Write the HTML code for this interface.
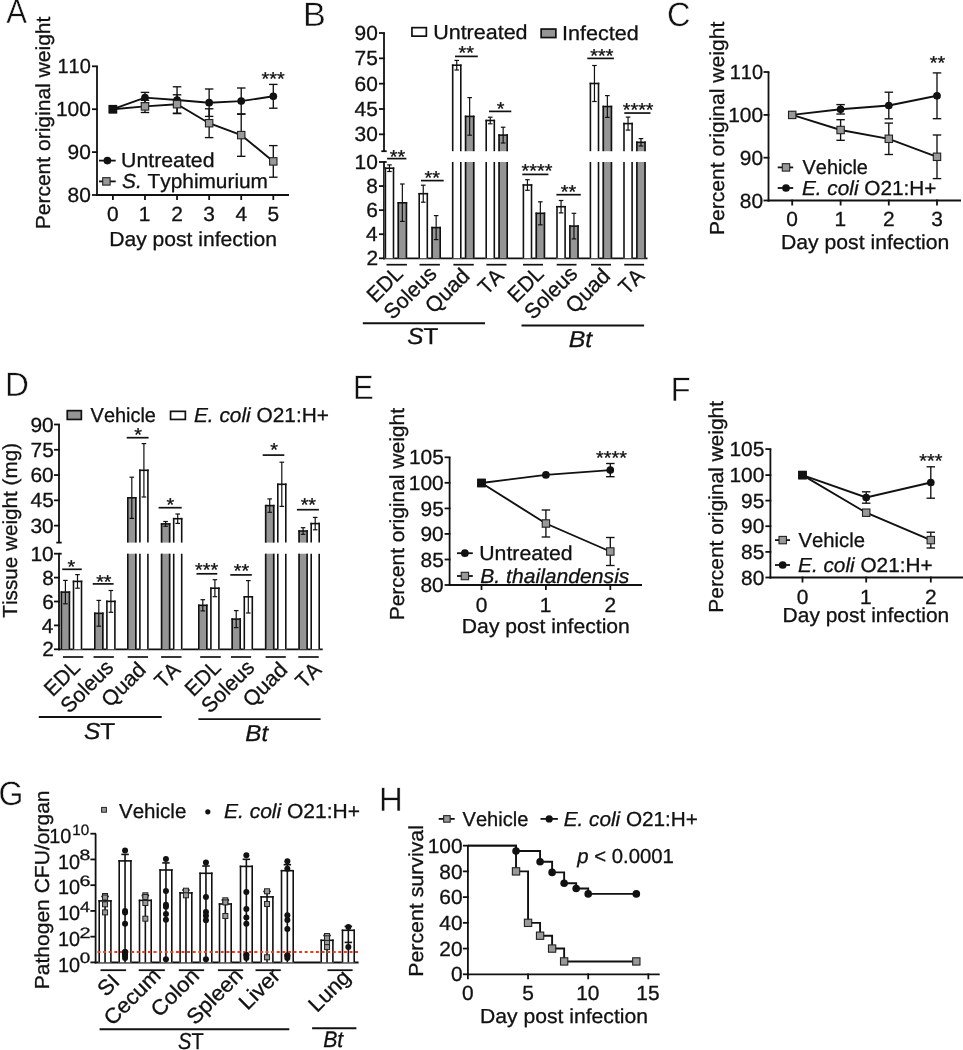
<!DOCTYPE html>
<html><head><meta charset="utf-8"><title>Figure</title>
<style>
html,body{margin:0;padding:0;background:#fff;width:963px;height:1050px;overflow:hidden}
svg{display:block}
text{font-family:"Liberation Sans",sans-serif;font-kerning:none;stroke:#111;stroke-width:0.3px}
</style></head><body>
<svg width="963" height="1050" viewBox="0 0 963 1050" text-rendering="geometricPrecision">
<rect x="0" y="0" width="963" height="1050" fill="#fff"/>
<g style="filter:grayscale(1)">
<text x="6.14" y="23.00" font-size="33.80" textLength="20.76" lengthAdjust="spacingAndGlyphs" fill="#111" style="stroke:#fff;stroke-width:0.45px">A</text>
<text x="303.09" y="26.20" font-size="33.80" textLength="22.82" lengthAdjust="spacingAndGlyphs" fill="#111" style="stroke:#fff;stroke-width:0.45px">B</text>
<text x="667.08" y="26.40" font-size="33.80" textLength="23.46" lengthAdjust="spacingAndGlyphs" fill="#111" style="stroke:#fff;stroke-width:0.45px">C</text>
<text x="5.09" y="395.80" font-size="33.80" textLength="23.91" lengthAdjust="spacingAndGlyphs" fill="#111" style="stroke:#fff;stroke-width:0.45px">D</text>
<text x="353.06" y="399.00" font-size="33.80" textLength="20.67" lengthAdjust="spacingAndGlyphs" fill="#111" style="stroke:#fff;stroke-width:0.45px">E</text>
<text x="670.39" y="400.80" font-size="33.80" textLength="20.20" lengthAdjust="spacingAndGlyphs" fill="#111" style="stroke:#fff;stroke-width:0.45px">F</text>
<text x="-1.60" y="804.50" font-size="33.80" textLength="24.86" lengthAdjust="spacingAndGlyphs" fill="#111" style="stroke:#fff;stroke-width:0.45px">G</text>
<text x="379.10" y="811.20" font-size="33.80" textLength="23.81" lengthAdjust="spacingAndGlyphs" fill="#111" style="stroke:#fff;stroke-width:0.45px">H</text>
<g transform="translate(0 0.6)">
<line x1="97.00" y1="65.70" x2="97.00" y2="195.30" stroke="#111" stroke-width="1.80"/>
<line x1="96.10" y1="194.40" x2="289.00" y2="194.40" stroke="#111" stroke-width="1.80"/>
<line x1="92.00" y1="65.70" x2="97.90" y2="65.70" stroke="#111" stroke-width="1.80"/>
<text x="57.46" y="72.83" font-size="20.50" textLength="33.34" lengthAdjust="spacingAndGlyphs" fill="#111">110</text>
<line x1="92.00" y1="108.60" x2="97.90" y2="108.60" stroke="#111" stroke-width="1.80"/>
<text x="55.92" y="115.73" font-size="20.50" textLength="34.89" lengthAdjust="spacingAndGlyphs" fill="#111">100</text>
<line x1="92.00" y1="151.50" x2="97.90" y2="151.50" stroke="#111" stroke-width="1.80"/>
<text x="67.54" y="158.63" font-size="20.50" textLength="23.26" lengthAdjust="spacingAndGlyphs" fill="#111">90</text>
<line x1="92.00" y1="194.40" x2="97.90" y2="194.40" stroke="#111" stroke-width="1.80"/>
<text x="67.54" y="201.53" font-size="20.50" textLength="23.26" lengthAdjust="spacingAndGlyphs" fill="#111">80</text>
<line x1="112.90" y1="193.50" x2="112.90" y2="199.40" stroke="#111" stroke-width="1.80"/>
<text x="107.09" y="220.60" font-size="20.50" textLength="11.63" lengthAdjust="spacingAndGlyphs" fill="#111">0</text>
<line x1="144.98" y1="193.50" x2="144.98" y2="199.40" stroke="#111" stroke-width="1.80"/>
<text x="138.87" y="220.60" font-size="20.50" textLength="11.63" lengthAdjust="spacingAndGlyphs" fill="#111">1</text>
<line x1="177.06" y1="193.50" x2="177.06" y2="199.40" stroke="#111" stroke-width="1.80"/>
<text x="171.25" y="220.60" font-size="20.50" textLength="11.63" lengthAdjust="spacingAndGlyphs" fill="#111">2</text>
<line x1="209.14" y1="193.50" x2="209.14" y2="199.40" stroke="#111" stroke-width="1.80"/>
<text x="203.39" y="220.60" font-size="20.50" textLength="11.63" lengthAdjust="spacingAndGlyphs" fill="#111">3</text>
<line x1="241.22" y1="193.50" x2="241.22" y2="199.40" stroke="#111" stroke-width="1.80"/>
<text x="235.47" y="220.60" font-size="20.50" textLength="11.63" lengthAdjust="spacingAndGlyphs" fill="#111">4</text>
<line x1="273.30" y1="193.50" x2="273.30" y2="199.40" stroke="#111" stroke-width="1.80"/>
<text x="267.51" y="220.60" font-size="20.50" textLength="11.63" lengthAdjust="spacingAndGlyphs" fill="#111">5</text>
<path d="M112.90 108.60 L144.98 97.00 L177.06 99.40 L209.14 102.10 L241.22 100.50 L273.30 95.70" stroke="#111" stroke-width="1.90" fill="none"/>
<path d="M112.90 108.60 L144.98 105.80 L177.06 103.60 L209.14 122.60 L241.22 134.50 L273.30 160.80" stroke="#111" stroke-width="1.90" fill="none"/>
<path d="M112.90 108.60" stroke="#111" stroke-width="1.90" fill="none"/>
<line x1="144.98" y1="91.80" x2="144.98" y2="102.20" stroke="#111" stroke-width="1.35"/>
<line x1="140.73" y1="91.80" x2="149.23" y2="91.80" stroke="#111" stroke-width="1.35"/>
<line x1="140.73" y1="102.20" x2="149.23" y2="102.20" stroke="#111" stroke-width="1.35"/>
<line x1="177.06" y1="86.20" x2="177.06" y2="112.60" stroke="#111" stroke-width="1.35"/>
<line x1="172.81" y1="86.20" x2="181.31" y2="86.20" stroke="#111" stroke-width="1.35"/>
<line x1="172.81" y1="112.60" x2="181.31" y2="112.60" stroke="#111" stroke-width="1.35"/>
<line x1="209.14" y1="88.40" x2="209.14" y2="115.80" stroke="#111" stroke-width="1.35"/>
<line x1="204.89" y1="88.40" x2="213.39" y2="88.40" stroke="#111" stroke-width="1.35"/>
<line x1="204.89" y1="115.80" x2="213.39" y2="115.80" stroke="#111" stroke-width="1.35"/>
<line x1="241.22" y1="87.40" x2="241.22" y2="113.60" stroke="#111" stroke-width="1.35"/>
<line x1="236.97" y1="87.40" x2="245.47" y2="87.40" stroke="#111" stroke-width="1.35"/>
<line x1="236.97" y1="113.60" x2="245.47" y2="113.60" stroke="#111" stroke-width="1.35"/>
<line x1="273.30" y1="83.80" x2="273.30" y2="107.60" stroke="#111" stroke-width="1.35"/>
<line x1="269.05" y1="83.80" x2="277.55" y2="83.80" stroke="#111" stroke-width="1.35"/>
<line x1="269.05" y1="107.60" x2="277.55" y2="107.60" stroke="#111" stroke-width="1.35"/>
<line x1="144.98" y1="99.70" x2="144.98" y2="111.90" stroke="#111" stroke-width="1.35"/>
<line x1="140.73" y1="99.70" x2="149.23" y2="99.70" stroke="#111" stroke-width="1.35"/>
<line x1="140.73" y1="111.90" x2="149.23" y2="111.90" stroke="#111" stroke-width="1.35"/>
<line x1="177.06" y1="94.20" x2="177.06" y2="113.00" stroke="#111" stroke-width="1.35"/>
<line x1="172.81" y1="94.20" x2="181.31" y2="94.20" stroke="#111" stroke-width="1.35"/>
<line x1="172.81" y1="113.00" x2="181.31" y2="113.00" stroke="#111" stroke-width="1.35"/>
<line x1="209.14" y1="108.20" x2="209.14" y2="137.00" stroke="#111" stroke-width="1.35"/>
<line x1="204.89" y1="108.20" x2="213.39" y2="108.20" stroke="#111" stroke-width="1.35"/>
<line x1="204.89" y1="137.00" x2="213.39" y2="137.00" stroke="#111" stroke-width="1.35"/>
<line x1="241.22" y1="113.30" x2="241.22" y2="155.70" stroke="#111" stroke-width="1.35"/>
<line x1="236.97" y1="113.30" x2="245.47" y2="113.30" stroke="#111" stroke-width="1.35"/>
<line x1="236.97" y1="155.70" x2="245.47" y2="155.70" stroke="#111" stroke-width="1.35"/>
<line x1="273.30" y1="145.00" x2="273.30" y2="176.60" stroke="#111" stroke-width="1.35"/>
<line x1="269.05" y1="145.00" x2="277.55" y2="145.00" stroke="#111" stroke-width="1.35"/>
<line x1="269.05" y1="176.60" x2="277.55" y2="176.60" stroke="#111" stroke-width="1.35"/>
<circle cx="112.90" cy="108.60" r="3.85" fill="#111"/>
<circle cx="144.98" cy="97.00" r="3.85" fill="#111"/>
<circle cx="177.06" cy="99.40" r="3.85" fill="#111"/>
<circle cx="209.14" cy="102.10" r="3.85" fill="#111"/>
<circle cx="241.22" cy="100.50" r="3.85" fill="#111"/>
<circle cx="273.30" cy="95.70" r="3.85" fill="#111"/>
<rect x="109.20" y="104.90" width="7.40" height="7.40" fill="#999" stroke="#222" stroke-width="1.10"/>
<rect x="141.28" y="102.10" width="7.40" height="7.40" fill="#999" stroke="#222" stroke-width="1.10"/>
<rect x="173.36" y="99.90" width="7.40" height="7.40" fill="#999" stroke="#222" stroke-width="1.10"/>
<rect x="205.44" y="118.90" width="7.40" height="7.40" fill="#999" stroke="#222" stroke-width="1.10"/>
<rect x="237.52" y="130.80" width="7.40" height="7.40" fill="#999" stroke="#222" stroke-width="1.10"/>
<rect x="269.60" y="157.10" width="7.40" height="7.40" fill="#999" stroke="#222" stroke-width="1.10"/>
<rect x="109.20" y="104.90" width="7.40" height="7.40" fill="#111" stroke="#111" stroke-width="1.10"/>
<text x="261.64" y="84.27" font-size="18.50" textLength="23.11" lengthAdjust="spacingAndGlyphs" fill="#111">***</text>
<line x1="99.00" y1="160.00" x2="115.70" y2="160.00" stroke="#111" stroke-width="1.80"/>
<circle cx="107.40" cy="160.00" r="3.85" fill="#111"/>
<text x="121.08" y="166.70" font-size="20.30" textLength="93.47" lengthAdjust="spacingAndGlyphs" fill="#111">Untreated</text>
<line x1="99.00" y1="180.80" x2="115.70" y2="180.80" stroke="#111" stroke-width="1.80"/>
<rect x="102.70" y="177.10" width="7.40" height="7.40" fill="#999" stroke="#222" stroke-width="1.10"/>
<text x="122.11" y="187.80" font-size="20.30" textLength="145.84" lengthAdjust="spacingAndGlyphs" fill="#111"><tspan font-style="italic">S.</tspan> Typhimurium</text>
<text transform="translate(49.90 227.00) rotate(-90)" x="-1.72" y="0" font-size="20.30" textLength="212.71" lengthAdjust="spacingAndGlyphs" fill="#111">Percent original weight</text>
<text x="109.17" y="245.90" font-size="20.30" textLength="167.80" lengthAdjust="spacingAndGlyphs" fill="#111">Day post infection</text>
</g>
<g transform="translate(0 0.5)">
<line x1="768.50" y1="71.50" x2="768.50" y2="200.90" stroke="#111" stroke-width="1.80"/>
<line x1="767.60" y1="200.00" x2="961.00" y2="200.00" stroke="#111" stroke-width="1.80"/>
<line x1="763.50" y1="71.50" x2="769.40" y2="71.50" stroke="#111" stroke-width="1.80"/>
<text x="729.76" y="78.63" font-size="20.50" textLength="33.34" lengthAdjust="spacingAndGlyphs" fill="#111">110</text>
<line x1="763.50" y1="114.40" x2="769.40" y2="114.40" stroke="#111" stroke-width="1.80"/>
<text x="728.22" y="121.53" font-size="20.50" textLength="34.89" lengthAdjust="spacingAndGlyphs" fill="#111">100</text>
<line x1="763.50" y1="157.20" x2="769.40" y2="157.20" stroke="#111" stroke-width="1.80"/>
<text x="739.84" y="164.33" font-size="20.50" textLength="23.26" lengthAdjust="spacingAndGlyphs" fill="#111">90</text>
<line x1="763.50" y1="200.00" x2="769.40" y2="200.00" stroke="#111" stroke-width="1.80"/>
<text x="739.84" y="207.13" font-size="20.50" textLength="23.26" lengthAdjust="spacingAndGlyphs" fill="#111">80</text>
<line x1="792.20" y1="199.10" x2="792.20" y2="205.00" stroke="#111" stroke-width="1.80"/>
<text x="786.39" y="225.80" font-size="20.50" textLength="11.63" lengthAdjust="spacingAndGlyphs" fill="#111">0</text>
<line x1="840.60" y1="199.10" x2="840.60" y2="205.00" stroke="#111" stroke-width="1.80"/>
<text x="834.49" y="225.80" font-size="20.50" textLength="11.63" lengthAdjust="spacingAndGlyphs" fill="#111">1</text>
<line x1="888.80" y1="199.10" x2="888.80" y2="205.00" stroke="#111" stroke-width="1.80"/>
<text x="882.99" y="225.80" font-size="20.50" textLength="11.63" lengthAdjust="spacingAndGlyphs" fill="#111">2</text>
<line x1="937.00" y1="199.10" x2="937.00" y2="205.00" stroke="#111" stroke-width="1.80"/>
<text x="931.25" y="225.80" font-size="20.50" textLength="11.63" lengthAdjust="spacingAndGlyphs" fill="#111">3</text>
<path d="M792.20 114.40 L840.60 108.80 L888.80 105.00 L937.00 95.30" stroke="#111" stroke-width="1.90" fill="none"/>
<path d="M792.20 114.40 L840.60 129.50 L888.80 138.30 L937.00 156.30" stroke="#111" stroke-width="1.90" fill="none"/>
<line x1="840.60" y1="104.10" x2="840.60" y2="113.50" stroke="#111" stroke-width="1.35"/>
<line x1="836.35" y1="104.10" x2="844.85" y2="104.10" stroke="#111" stroke-width="1.35"/>
<line x1="836.35" y1="113.50" x2="844.85" y2="113.50" stroke="#111" stroke-width="1.35"/>
<line x1="888.80" y1="91.70" x2="888.80" y2="118.30" stroke="#111" stroke-width="1.35"/>
<line x1="884.55" y1="91.70" x2="893.05" y2="91.70" stroke="#111" stroke-width="1.35"/>
<line x1="884.55" y1="118.30" x2="893.05" y2="118.30" stroke="#111" stroke-width="1.35"/>
<line x1="937.00" y1="72.40" x2="937.00" y2="118.20" stroke="#111" stroke-width="1.35"/>
<line x1="932.75" y1="72.40" x2="941.25" y2="72.40" stroke="#111" stroke-width="1.35"/>
<line x1="932.75" y1="118.20" x2="941.25" y2="118.20" stroke="#111" stroke-width="1.35"/>
<line x1="840.60" y1="119.20" x2="840.60" y2="139.80" stroke="#111" stroke-width="1.35"/>
<line x1="836.35" y1="119.20" x2="844.85" y2="119.20" stroke="#111" stroke-width="1.35"/>
<line x1="836.35" y1="139.80" x2="844.85" y2="139.80" stroke="#111" stroke-width="1.35"/>
<line x1="888.80" y1="122.60" x2="888.80" y2="154.00" stroke="#111" stroke-width="1.35"/>
<line x1="884.55" y1="122.60" x2="893.05" y2="122.60" stroke="#111" stroke-width="1.35"/>
<line x1="884.55" y1="154.00" x2="893.05" y2="154.00" stroke="#111" stroke-width="1.35"/>
<line x1="937.00" y1="134.50" x2="937.00" y2="178.10" stroke="#111" stroke-width="1.35"/>
<line x1="932.75" y1="134.50" x2="941.25" y2="134.50" stroke="#111" stroke-width="1.35"/>
<line x1="932.75" y1="178.10" x2="941.25" y2="178.10" stroke="#111" stroke-width="1.35"/>
<circle cx="792.20" cy="114.40" r="3.85" fill="#111"/>
<circle cx="840.60" cy="108.80" r="3.85" fill="#111"/>
<circle cx="888.80" cy="105.00" r="3.85" fill="#111"/>
<circle cx="937.00" cy="95.30" r="3.85" fill="#111"/>
<rect x="788.50" y="110.70" width="7.40" height="7.40" fill="#999" stroke="#222" stroke-width="1.10"/>
<rect x="836.90" y="125.80" width="7.40" height="7.40" fill="#999" stroke="#222" stroke-width="1.10"/>
<rect x="885.10" y="134.60" width="7.40" height="7.40" fill="#999" stroke="#222" stroke-width="1.10"/>
<rect x="933.30" y="152.60" width="7.40" height="7.40" fill="#999" stroke="#222" stroke-width="1.10"/>
<text x="929.78" y="68.77" font-size="18.50" textLength="15.41" lengthAdjust="spacingAndGlyphs" fill="#111">**</text>
<line x1="777.70" y1="166.90" x2="793.20" y2="166.90" stroke="#111" stroke-width="1.80"/>
<rect x="782.30" y="163.20" width="7.40" height="7.40" fill="#999" stroke="#222" stroke-width="1.10"/>
<text x="802.52" y="173.60" font-size="20.30" textLength="65.39" lengthAdjust="spacingAndGlyphs" fill="#111">Vehicle</text>
<line x1="777.70" y1="187.50" x2="793.20" y2="187.50" stroke="#111" stroke-width="1.80"/>
<circle cx="786.00" cy="187.50" r="3.85" fill="#111"/>
<text x="801.98" y="194.30" font-size="20.30" textLength="134.54" lengthAdjust="spacingAndGlyphs" fill="#111"><tspan font-style="italic">E. coli</tspan> O21:H+</text>
<text transform="translate(723.60 232.80) rotate(-90)" x="-1.73" y="0" font-size="20.30" textLength="213.31" lengthAdjust="spacingAndGlyphs" fill="#111">Percent original weight</text>
<text x="780.96" y="248.60" font-size="20.30" textLength="168.41" lengthAdjust="spacingAndGlyphs" fill="#111">Day post infection</text>
</g>
<line x1="449.60" y1="457.30" x2="449.60" y2="585.90" stroke="#111" stroke-width="1.80"/>
<line x1="448.70" y1="585.00" x2="642.00" y2="585.00" stroke="#111" stroke-width="1.80"/>
<line x1="444.60" y1="457.30" x2="450.50" y2="457.30" stroke="#111" stroke-width="1.80"/>
<text x="408.90" y="464.43" font-size="20.50" textLength="34.89" lengthAdjust="spacingAndGlyphs" fill="#111">105</text>
<line x1="444.60" y1="482.80" x2="450.50" y2="482.80" stroke="#111" stroke-width="1.80"/>
<text x="408.82" y="489.93" font-size="20.50" textLength="34.89" lengthAdjust="spacingAndGlyphs" fill="#111">100</text>
<line x1="444.60" y1="508.40" x2="450.50" y2="508.40" stroke="#111" stroke-width="1.80"/>
<text x="420.53" y="515.53" font-size="20.50" textLength="23.26" lengthAdjust="spacingAndGlyphs" fill="#111">95</text>
<line x1="444.60" y1="533.90" x2="450.50" y2="533.90" stroke="#111" stroke-width="1.80"/>
<text x="420.44" y="541.03" font-size="20.50" textLength="23.26" lengthAdjust="spacingAndGlyphs" fill="#111">90</text>
<line x1="444.60" y1="559.50" x2="450.50" y2="559.50" stroke="#111" stroke-width="1.80"/>
<text x="420.53" y="566.63" font-size="20.50" textLength="23.26" lengthAdjust="spacingAndGlyphs" fill="#111">85</text>
<line x1="444.60" y1="585.00" x2="450.50" y2="585.00" stroke="#111" stroke-width="1.80"/>
<text x="420.44" y="592.13" font-size="20.50" textLength="23.26" lengthAdjust="spacingAndGlyphs" fill="#111">80</text>
<line x1="481.50" y1="584.10" x2="481.50" y2="590.00" stroke="#111" stroke-width="1.80"/>
<text x="475.69" y="611.60" font-size="20.50" textLength="11.63" lengthAdjust="spacingAndGlyphs" fill="#111">0</text>
<line x1="545.90" y1="584.10" x2="545.90" y2="590.00" stroke="#111" stroke-width="1.80"/>
<text x="539.79" y="611.60" font-size="20.50" textLength="11.63" lengthAdjust="spacingAndGlyphs" fill="#111">1</text>
<line x1="610.30" y1="584.10" x2="610.30" y2="590.00" stroke="#111" stroke-width="1.80"/>
<text x="604.49" y="611.60" font-size="20.50" textLength="11.63" lengthAdjust="spacingAndGlyphs" fill="#111">2</text>
<path d="M481.50 483.00 L545.90 474.90 L610.30 470.10" stroke="#111" stroke-width="1.90" fill="none"/>
<path d="M481.50 483.00 L545.90 523.50 L610.30 551.50" stroke="#111" stroke-width="1.90" fill="none"/>
<path d="M481.50 483.00" stroke="#111" stroke-width="1.90" fill="none"/>
<line x1="610.30" y1="463.50" x2="610.30" y2="476.70" stroke="#111" stroke-width="1.35"/>
<line x1="606.05" y1="463.50" x2="614.55" y2="463.50" stroke="#111" stroke-width="1.35"/>
<line x1="606.05" y1="476.70" x2="614.55" y2="476.70" stroke="#111" stroke-width="1.35"/>
<line x1="545.90" y1="510.00" x2="545.90" y2="537.00" stroke="#111" stroke-width="1.35"/>
<line x1="541.65" y1="510.00" x2="550.15" y2="510.00" stroke="#111" stroke-width="1.35"/>
<line x1="541.65" y1="537.00" x2="550.15" y2="537.00" stroke="#111" stroke-width="1.35"/>
<line x1="610.30" y1="537.50" x2="610.30" y2="565.50" stroke="#111" stroke-width="1.35"/>
<line x1="606.05" y1="537.50" x2="614.55" y2="537.50" stroke="#111" stroke-width="1.35"/>
<line x1="606.05" y1="565.50" x2="614.55" y2="565.50" stroke="#111" stroke-width="1.35"/>
<circle cx="481.50" cy="483.00" r="3.85" fill="#111"/>
<circle cx="545.90" cy="474.90" r="3.85" fill="#111"/>
<circle cx="610.30" cy="470.10" r="3.85" fill="#111"/>
<rect x="477.80" y="479.30" width="7.40" height="7.40" fill="#999" stroke="#222" stroke-width="1.10"/>
<rect x="542.20" y="519.80" width="7.40" height="7.40" fill="#999" stroke="#222" stroke-width="1.10"/>
<rect x="606.60" y="547.80" width="7.40" height="7.40" fill="#999" stroke="#222" stroke-width="1.10"/>
<rect x="477.80" y="479.30" width="7.40" height="7.40" fill="#111" stroke="#111" stroke-width="1.10"/>
<text x="596.08" y="463.87" font-size="18.50" textLength="30.81" lengthAdjust="spacingAndGlyphs" fill="#111">****</text>
<line x1="457.00" y1="553.20" x2="472.80" y2="553.20" stroke="#111" stroke-width="1.80"/>
<circle cx="464.90" cy="553.20" r="3.85" fill="#111"/>
<text x="479.28" y="559.80" font-size="20.30" textLength="93.37" lengthAdjust="spacingAndGlyphs" fill="#111">Untreated</text>
<line x1="457.00" y1="576.00" x2="472.80" y2="576.00" stroke="#111" stroke-width="1.80"/>
<rect x="461.20" y="572.30" width="7.40" height="7.40" fill="#999" stroke="#222" stroke-width="1.10"/>
<text x="480.27" y="583.00" font-size="20.30" textLength="149.16" lengthAdjust="spacingAndGlyphs" fill="#111"><tspan font-style="italic">B. thailandensis</tspan></text>
<text transform="translate(404.00 618.60) rotate(-90)" x="-1.72" y="0" font-size="20.30" textLength="212.30" lengthAdjust="spacingAndGlyphs" fill="#111">Percent original weight</text>
<text x="461.87" y="632.60" font-size="20.30" textLength="168.00" lengthAdjust="spacingAndGlyphs" fill="#111">Day post infection</text>
<line x1="770.40" y1="449.10" x2="770.40" y2="578.40" stroke="#111" stroke-width="1.80"/>
<line x1="769.50" y1="577.50" x2="963.00" y2="577.50" stroke="#111" stroke-width="1.80"/>
<line x1="765.40" y1="449.10" x2="771.30" y2="449.10" stroke="#111" stroke-width="1.80"/>
<text x="729.50" y="456.23" font-size="20.50" textLength="34.89" lengthAdjust="spacingAndGlyphs" fill="#111">105</text>
<line x1="765.40" y1="475.10" x2="771.30" y2="475.10" stroke="#111" stroke-width="1.80"/>
<text x="729.42" y="482.23" font-size="20.50" textLength="34.89" lengthAdjust="spacingAndGlyphs" fill="#111">100</text>
<line x1="765.40" y1="500.60" x2="771.30" y2="500.60" stroke="#111" stroke-width="1.80"/>
<text x="741.13" y="507.73" font-size="20.50" textLength="23.26" lengthAdjust="spacingAndGlyphs" fill="#111">95</text>
<line x1="765.40" y1="526.20" x2="771.30" y2="526.20" stroke="#111" stroke-width="1.80"/>
<text x="741.04" y="533.33" font-size="20.50" textLength="23.26" lengthAdjust="spacingAndGlyphs" fill="#111">90</text>
<line x1="765.40" y1="551.90" x2="771.30" y2="551.90" stroke="#111" stroke-width="1.80"/>
<text x="741.13" y="559.03" font-size="20.50" textLength="23.26" lengthAdjust="spacingAndGlyphs" fill="#111">85</text>
<line x1="765.40" y1="577.50" x2="771.30" y2="577.50" stroke="#111" stroke-width="1.80"/>
<text x="741.04" y="584.63" font-size="20.50" textLength="23.26" lengthAdjust="spacingAndGlyphs" fill="#111">80</text>
<line x1="802.50" y1="576.60" x2="802.50" y2="582.50" stroke="#111" stroke-width="1.80"/>
<text x="796.69" y="604.00" font-size="20.50" textLength="11.63" lengthAdjust="spacingAndGlyphs" fill="#111">0</text>
<line x1="866.20" y1="576.60" x2="866.20" y2="582.50" stroke="#111" stroke-width="1.80"/>
<text x="860.09" y="604.00" font-size="20.50" textLength="11.63" lengthAdjust="spacingAndGlyphs" fill="#111">1</text>
<line x1="930.80" y1="576.60" x2="930.80" y2="582.50" stroke="#111" stroke-width="1.80"/>
<text x="924.99" y="604.00" font-size="20.50" textLength="11.63" lengthAdjust="spacingAndGlyphs" fill="#111">2</text>
<path d="M802.50 475.10 L866.20 497.50 L930.80 482.50" stroke="#111" stroke-width="1.90" fill="none"/>
<path d="M802.50 475.10 L866.20 512.70 L930.80 540.10" stroke="#111" stroke-width="1.90" fill="none"/>
<path d="M802.50 475.10" stroke="#111" stroke-width="1.90" fill="none"/>
<line x1="866.20" y1="491.80" x2="866.20" y2="503.20" stroke="#111" stroke-width="1.35"/>
<line x1="861.95" y1="491.80" x2="870.45" y2="491.80" stroke="#111" stroke-width="1.35"/>
<line x1="861.95" y1="503.20" x2="870.45" y2="503.20" stroke="#111" stroke-width="1.35"/>
<line x1="930.80" y1="466.80" x2="930.80" y2="498.20" stroke="#111" stroke-width="1.35"/>
<line x1="926.55" y1="466.80" x2="935.05" y2="466.80" stroke="#111" stroke-width="1.35"/>
<line x1="926.55" y1="498.20" x2="935.05" y2="498.20" stroke="#111" stroke-width="1.35"/>
<line x1="930.80" y1="532.20" x2="930.80" y2="548.00" stroke="#111" stroke-width="1.35"/>
<line x1="926.55" y1="532.20" x2="935.05" y2="532.20" stroke="#111" stroke-width="1.35"/>
<line x1="926.55" y1="548.00" x2="935.05" y2="548.00" stroke="#111" stroke-width="1.35"/>
<circle cx="802.50" cy="475.10" r="3.85" fill="#111"/>
<circle cx="866.20" cy="497.50" r="3.85" fill="#111"/>
<circle cx="930.80" cy="482.50" r="3.85" fill="#111"/>
<rect x="798.80" y="471.40" width="7.40" height="7.40" fill="#999" stroke="#222" stroke-width="1.10"/>
<rect x="862.50" y="509.00" width="7.40" height="7.40" fill="#999" stroke="#222" stroke-width="1.10"/>
<rect x="927.10" y="536.40" width="7.40" height="7.40" fill="#999" stroke="#222" stroke-width="1.10"/>
<rect x="798.80" y="471.40" width="7.40" height="7.40" fill="#111" stroke="#111" stroke-width="1.10"/>
<text x="919.34" y="466.67" font-size="18.50" textLength="23.11" lengthAdjust="spacingAndGlyphs" fill="#111">***</text>
<line x1="775.00" y1="540.10" x2="790.00" y2="540.10" stroke="#111" stroke-width="1.80"/>
<rect x="779.00" y="536.40" width="7.40" height="7.40" fill="#999" stroke="#222" stroke-width="1.10"/>
<text x="798.62" y="546.90" font-size="20.30" textLength="66.40" lengthAdjust="spacingAndGlyphs" fill="#111">Vehicle</text>
<line x1="775.00" y1="565.00" x2="790.00" y2="565.00" stroke="#111" stroke-width="1.80"/>
<circle cx="782.70" cy="565.00" r="3.85" fill="#111"/>
<text x="798.08" y="572.30" font-size="20.30" textLength="134.54" lengthAdjust="spacingAndGlyphs" fill="#111"><tspan font-style="italic">E. coli</tspan> O21:H+</text>
<text transform="translate(722.50 611.00) rotate(-90)" x="-1.72" y="0" font-size="20.30" textLength="211.70" lengthAdjust="spacingAndGlyphs" fill="#111">Percent original weight</text>
<text x="782.58" y="621.70" font-size="20.30" textLength="166.68" lengthAdjust="spacingAndGlyphs" fill="#111">Day post infection</text>
<line x1="384.00" y1="33.00" x2="384.00" y2="151.20" stroke="#111" stroke-width="1.80"/>
<line x1="381.30" y1="151.20" x2="386.70" y2="151.20" stroke="#111" stroke-width="1.80"/>
<line x1="384.00" y1="162.00" x2="384.00" y2="259.20" stroke="#111" stroke-width="1.80"/>
<line x1="384.00" y1="162.00" x2="386.70" y2="162.00" stroke="#111" stroke-width="1.80"/>
<line x1="383.10" y1="258.30" x2="647.50" y2="258.30" stroke="#111" stroke-width="1.80"/>
<line x1="379.00" y1="33.00" x2="384.90" y2="33.00" stroke="#111" stroke-width="1.80"/>
<text x="354.54" y="40.13" font-size="20.50" textLength="23.26" lengthAdjust="spacingAndGlyphs" fill="#111">90</text>
<line x1="379.00" y1="58.33" x2="384.90" y2="58.33" stroke="#111" stroke-width="1.80"/>
<text x="354.63" y="65.46" font-size="20.50" textLength="23.26" lengthAdjust="spacingAndGlyphs" fill="#111">75</text>
<line x1="379.00" y1="83.66" x2="384.90" y2="83.66" stroke="#111" stroke-width="1.80"/>
<text x="354.54" y="90.80" font-size="20.50" textLength="23.26" lengthAdjust="spacingAndGlyphs" fill="#111">60</text>
<line x1="379.00" y1="108.99" x2="384.90" y2="108.99" stroke="#111" stroke-width="1.80"/>
<text x="354.63" y="116.13" font-size="20.50" textLength="23.26" lengthAdjust="spacingAndGlyphs" fill="#111">45</text>
<line x1="379.00" y1="134.32" x2="384.90" y2="134.32" stroke="#111" stroke-width="1.80"/>
<text x="354.54" y="141.46" font-size="20.50" textLength="23.26" lengthAdjust="spacingAndGlyphs" fill="#111">30</text>
<line x1="379.00" y1="161.98" x2="384.90" y2="161.98" stroke="#111" stroke-width="1.80"/>
<text x="354.54" y="169.11" font-size="20.50" textLength="23.26" lengthAdjust="spacingAndGlyphs" fill="#111">10</text>
<line x1="379.00" y1="186.06" x2="384.90" y2="186.06" stroke="#111" stroke-width="1.80"/>
<text x="366.29" y="193.19" font-size="20.50" textLength="11.63" lengthAdjust="spacingAndGlyphs" fill="#111">8</text>
<line x1="379.00" y1="210.14" x2="384.90" y2="210.14" stroke="#111" stroke-width="1.80"/>
<text x="366.29" y="217.27" font-size="20.50" textLength="11.63" lengthAdjust="spacingAndGlyphs" fill="#111">6</text>
<line x1="379.00" y1="234.22" x2="384.90" y2="234.22" stroke="#111" stroke-width="1.80"/>
<text x="365.96" y="241.35" font-size="20.50" textLength="11.63" lengthAdjust="spacingAndGlyphs" fill="#111">4</text>
<line x1="379.00" y1="258.30" x2="384.90" y2="258.30" stroke="#111" stroke-width="1.80"/>
<text x="366.42" y="265.43" font-size="20.50" textLength="11.63" lengthAdjust="spacingAndGlyphs" fill="#111">2</text>
<rect x="384.60" y="168.20" width="9.70" height="90.10" fill="#fff"/>
<line x1="385.40" y1="167.40" x2="385.40" y2="258.30" stroke="#111" stroke-width="1.60"/>
<line x1="393.50" y1="167.40" x2="393.50" y2="258.30" stroke="#111" stroke-width="1.60"/>
<line x1="384.60" y1="168.20" x2="394.30" y2="168.20" stroke="#111" stroke-width="1.60"/>
<rect x="397.50" y="202.80" width="9.70" height="55.50" fill="#959595"/>
<line x1="398.30" y1="202.00" x2="398.30" y2="258.30" stroke="#111" stroke-width="1.60"/>
<line x1="406.40" y1="202.00" x2="406.40" y2="258.30" stroke="#111" stroke-width="1.60"/>
<line x1="397.50" y1="202.80" x2="407.20" y2="202.80" stroke="#111" stroke-width="1.60"/>
<rect x="418.40" y="193.70" width="9.70" height="64.60" fill="#fff"/>
<line x1="419.20" y1="192.90" x2="419.20" y2="258.30" stroke="#111" stroke-width="1.60"/>
<line x1="427.30" y1="192.90" x2="427.30" y2="258.30" stroke="#111" stroke-width="1.60"/>
<line x1="418.40" y1="193.70" x2="428.10" y2="193.70" stroke="#111" stroke-width="1.60"/>
<rect x="431.30" y="227.60" width="9.70" height="30.70" fill="#959595"/>
<line x1="432.10" y1="226.80" x2="432.10" y2="258.30" stroke="#111" stroke-width="1.60"/>
<line x1="440.20" y1="226.80" x2="440.20" y2="258.30" stroke="#111" stroke-width="1.60"/>
<line x1="431.30" y1="227.60" x2="441.00" y2="227.60" stroke="#111" stroke-width="1.60"/>
<rect x="451.90" y="65.20" width="9.70" height="86.00" fill="#fff"/>
<line x1="452.70" y1="64.40" x2="452.70" y2="151.20" stroke="#111" stroke-width="1.60"/>
<line x1="460.80" y1="64.40" x2="460.80" y2="151.20" stroke="#111" stroke-width="1.60"/>
<line x1="451.90" y1="65.20" x2="461.60" y2="65.20" stroke="#111" stroke-width="1.60"/>
<rect x="451.90" y="162.00" width="9.70" height="96.30" fill="#fff"/>
<line x1="452.70" y1="162.00" x2="452.70" y2="258.30" stroke="#111" stroke-width="1.60"/>
<line x1="460.80" y1="162.00" x2="460.80" y2="258.30" stroke="#111" stroke-width="1.60"/>
<rect x="464.80" y="116.40" width="9.70" height="34.80" fill="#959595"/>
<line x1="465.60" y1="115.60" x2="465.60" y2="151.20" stroke="#111" stroke-width="1.60"/>
<line x1="473.70" y1="115.60" x2="473.70" y2="151.20" stroke="#111" stroke-width="1.60"/>
<line x1="464.80" y1="116.40" x2="474.50" y2="116.40" stroke="#111" stroke-width="1.60"/>
<rect x="464.80" y="162.00" width="9.70" height="96.30" fill="#959595"/>
<line x1="465.60" y1="162.00" x2="465.60" y2="258.30" stroke="#111" stroke-width="1.60"/>
<line x1="473.70" y1="162.00" x2="473.70" y2="258.30" stroke="#111" stroke-width="1.60"/>
<rect x="485.40" y="120.50" width="9.70" height="30.70" fill="#fff"/>
<line x1="486.20" y1="119.70" x2="486.20" y2="151.20" stroke="#111" stroke-width="1.60"/>
<line x1="494.30" y1="119.70" x2="494.30" y2="151.20" stroke="#111" stroke-width="1.60"/>
<line x1="485.40" y1="120.50" x2="495.10" y2="120.50" stroke="#111" stroke-width="1.60"/>
<rect x="485.40" y="162.00" width="9.70" height="96.30" fill="#fff"/>
<line x1="486.20" y1="162.00" x2="486.20" y2="258.30" stroke="#111" stroke-width="1.60"/>
<line x1="494.30" y1="162.00" x2="494.30" y2="258.30" stroke="#111" stroke-width="1.60"/>
<rect x="498.30" y="135.10" width="9.70" height="16.10" fill="#959595"/>
<line x1="499.10" y1="134.30" x2="499.10" y2="151.20" stroke="#111" stroke-width="1.60"/>
<line x1="507.20" y1="134.30" x2="507.20" y2="151.20" stroke="#111" stroke-width="1.60"/>
<line x1="498.30" y1="135.10" x2="508.00" y2="135.10" stroke="#111" stroke-width="1.60"/>
<rect x="498.30" y="162.00" width="9.70" height="96.30" fill="#959595"/>
<line x1="499.10" y1="162.00" x2="499.10" y2="258.30" stroke="#111" stroke-width="1.60"/>
<line x1="507.20" y1="162.00" x2="507.20" y2="258.30" stroke="#111" stroke-width="1.60"/>
<rect x="522.60" y="185.00" width="9.70" height="73.30" fill="#fff"/>
<line x1="523.40" y1="184.20" x2="523.40" y2="258.30" stroke="#111" stroke-width="1.60"/>
<line x1="531.50" y1="184.20" x2="531.50" y2="258.30" stroke="#111" stroke-width="1.60"/>
<line x1="522.60" y1="185.00" x2="532.30" y2="185.00" stroke="#111" stroke-width="1.60"/>
<rect x="535.50" y="213.30" width="9.70" height="45.00" fill="#959595"/>
<line x1="536.30" y1="212.50" x2="536.30" y2="258.30" stroke="#111" stroke-width="1.60"/>
<line x1="544.40" y1="212.50" x2="544.40" y2="258.30" stroke="#111" stroke-width="1.60"/>
<line x1="535.50" y1="213.30" x2="545.20" y2="213.30" stroke="#111" stroke-width="1.60"/>
<rect x="556.20" y="206.70" width="9.70" height="51.60" fill="#fff"/>
<line x1="557.00" y1="205.90" x2="557.00" y2="258.30" stroke="#111" stroke-width="1.60"/>
<line x1="565.10" y1="205.90" x2="565.10" y2="258.30" stroke="#111" stroke-width="1.60"/>
<line x1="556.20" y1="206.70" x2="565.90" y2="206.70" stroke="#111" stroke-width="1.60"/>
<rect x="569.10" y="226.10" width="9.70" height="32.20" fill="#959595"/>
<line x1="569.90" y1="225.30" x2="569.90" y2="258.30" stroke="#111" stroke-width="1.60"/>
<line x1="578.00" y1="225.30" x2="578.00" y2="258.30" stroke="#111" stroke-width="1.60"/>
<line x1="569.10" y1="226.10" x2="578.80" y2="226.10" stroke="#111" stroke-width="1.60"/>
<rect x="589.60" y="83.50" width="9.70" height="67.70" fill="#fff"/>
<line x1="590.40" y1="82.70" x2="590.40" y2="151.20" stroke="#111" stroke-width="1.60"/>
<line x1="598.50" y1="82.70" x2="598.50" y2="151.20" stroke="#111" stroke-width="1.60"/>
<line x1="589.60" y1="83.50" x2="599.30" y2="83.50" stroke="#111" stroke-width="1.60"/>
<rect x="589.60" y="162.00" width="9.70" height="96.30" fill="#fff"/>
<line x1="590.40" y1="162.00" x2="590.40" y2="258.30" stroke="#111" stroke-width="1.60"/>
<line x1="598.50" y1="162.00" x2="598.50" y2="258.30" stroke="#111" stroke-width="1.60"/>
<rect x="602.50" y="106.50" width="9.70" height="44.70" fill="#959595"/>
<line x1="603.30" y1="105.70" x2="603.30" y2="151.20" stroke="#111" stroke-width="1.60"/>
<line x1="611.40" y1="105.70" x2="611.40" y2="151.20" stroke="#111" stroke-width="1.60"/>
<line x1="602.50" y1="106.50" x2="612.20" y2="106.50" stroke="#111" stroke-width="1.60"/>
<rect x="602.50" y="162.00" width="9.70" height="96.30" fill="#959595"/>
<line x1="603.30" y1="162.00" x2="603.30" y2="258.30" stroke="#111" stroke-width="1.60"/>
<line x1="611.40" y1="162.00" x2="611.40" y2="258.30" stroke="#111" stroke-width="1.60"/>
<rect x="623.20" y="123.60" width="9.70" height="27.60" fill="#fff"/>
<line x1="624.00" y1="122.80" x2="624.00" y2="151.20" stroke="#111" stroke-width="1.60"/>
<line x1="632.10" y1="122.80" x2="632.10" y2="151.20" stroke="#111" stroke-width="1.60"/>
<line x1="623.20" y1="123.60" x2="632.90" y2="123.60" stroke="#111" stroke-width="1.60"/>
<rect x="623.20" y="162.00" width="9.70" height="96.30" fill="#fff"/>
<line x1="624.00" y1="162.00" x2="624.00" y2="258.30" stroke="#111" stroke-width="1.60"/>
<line x1="632.10" y1="162.00" x2="632.10" y2="258.30" stroke="#111" stroke-width="1.60"/>
<rect x="636.10" y="142.30" width="9.70" height="8.90" fill="#959595"/>
<line x1="636.90" y1="141.50" x2="636.90" y2="151.20" stroke="#111" stroke-width="1.60"/>
<line x1="645.00" y1="141.50" x2="645.00" y2="151.20" stroke="#111" stroke-width="1.60"/>
<line x1="636.10" y1="142.30" x2="645.80" y2="142.30" stroke="#111" stroke-width="1.60"/>
<rect x="636.10" y="162.00" width="9.70" height="96.30" fill="#959595"/>
<line x1="636.90" y1="162.00" x2="636.90" y2="258.30" stroke="#111" stroke-width="1.60"/>
<line x1="645.00" y1="162.00" x2="645.00" y2="258.30" stroke="#111" stroke-width="1.60"/>
<line x1="389.45" y1="164.90" x2="389.45" y2="171.50" stroke="#111" stroke-width="1.20"/>
<line x1="387.15" y1="164.90" x2="391.75" y2="164.90" stroke="#111" stroke-width="1.20"/>
<line x1="387.15" y1="171.50" x2="391.75" y2="171.50" stroke="#111" stroke-width="1.20"/>
<line x1="402.35" y1="184.00" x2="402.35" y2="221.40" stroke="#111" stroke-width="1.20"/>
<line x1="400.05" y1="184.00" x2="404.65" y2="184.00" stroke="#111" stroke-width="1.20"/>
<line x1="400.05" y1="221.40" x2="404.65" y2="221.40" stroke="#111" stroke-width="1.20"/>
<line x1="423.25" y1="185.20" x2="423.25" y2="202.20" stroke="#111" stroke-width="1.20"/>
<line x1="420.95" y1="185.20" x2="425.55" y2="185.20" stroke="#111" stroke-width="1.20"/>
<line x1="420.95" y1="202.20" x2="425.55" y2="202.20" stroke="#111" stroke-width="1.20"/>
<line x1="436.15" y1="215.60" x2="436.15" y2="239.60" stroke="#111" stroke-width="1.20"/>
<line x1="433.85" y1="215.60" x2="438.45" y2="215.60" stroke="#111" stroke-width="1.20"/>
<line x1="433.85" y1="239.60" x2="438.45" y2="239.60" stroke="#111" stroke-width="1.20"/>
<line x1="456.75" y1="60.40" x2="456.75" y2="70.00" stroke="#111" stroke-width="1.20"/>
<line x1="454.45" y1="60.40" x2="459.05" y2="60.40" stroke="#111" stroke-width="1.20"/>
<line x1="454.45" y1="70.00" x2="459.05" y2="70.00" stroke="#111" stroke-width="1.20"/>
<line x1="469.65" y1="97.60" x2="469.65" y2="135.20" stroke="#111" stroke-width="1.20"/>
<line x1="467.35" y1="97.60" x2="471.95" y2="97.60" stroke="#111" stroke-width="1.20"/>
<line x1="467.35" y1="135.20" x2="471.95" y2="135.20" stroke="#111" stroke-width="1.20"/>
<line x1="490.25" y1="117.20" x2="490.25" y2="123.80" stroke="#111" stroke-width="1.20"/>
<line x1="487.95" y1="117.20" x2="492.55" y2="117.20" stroke="#111" stroke-width="1.20"/>
<line x1="487.95" y1="123.80" x2="492.55" y2="123.80" stroke="#111" stroke-width="1.20"/>
<line x1="503.15" y1="127.20" x2="503.15" y2="143.00" stroke="#111" stroke-width="1.20"/>
<line x1="500.85" y1="127.20" x2="505.45" y2="127.20" stroke="#111" stroke-width="1.20"/>
<line x1="500.85" y1="143.00" x2="505.45" y2="143.00" stroke="#111" stroke-width="1.20"/>
<line x1="527.45" y1="179.70" x2="527.45" y2="190.30" stroke="#111" stroke-width="1.20"/>
<line x1="525.15" y1="179.70" x2="529.75" y2="179.70" stroke="#111" stroke-width="1.20"/>
<line x1="525.15" y1="190.30" x2="529.75" y2="190.30" stroke="#111" stroke-width="1.20"/>
<line x1="540.35" y1="201.80" x2="540.35" y2="224.80" stroke="#111" stroke-width="1.20"/>
<line x1="538.05" y1="201.80" x2="542.65" y2="201.80" stroke="#111" stroke-width="1.20"/>
<line x1="538.05" y1="224.80" x2="542.65" y2="224.80" stroke="#111" stroke-width="1.20"/>
<line x1="561.05" y1="200.50" x2="561.05" y2="212.90" stroke="#111" stroke-width="1.20"/>
<line x1="558.75" y1="200.50" x2="563.35" y2="200.50" stroke="#111" stroke-width="1.20"/>
<line x1="558.75" y1="212.90" x2="563.35" y2="212.90" stroke="#111" stroke-width="1.20"/>
<line x1="573.95" y1="213.30" x2="573.95" y2="238.90" stroke="#111" stroke-width="1.20"/>
<line x1="571.65" y1="213.30" x2="576.25" y2="213.30" stroke="#111" stroke-width="1.20"/>
<line x1="571.65" y1="238.90" x2="576.25" y2="238.90" stroke="#111" stroke-width="1.20"/>
<line x1="594.45" y1="65.50" x2="594.45" y2="101.50" stroke="#111" stroke-width="1.20"/>
<line x1="592.15" y1="65.50" x2="596.75" y2="65.50" stroke="#111" stroke-width="1.20"/>
<line x1="592.15" y1="101.50" x2="596.75" y2="101.50" stroke="#111" stroke-width="1.20"/>
<line x1="607.35" y1="95.60" x2="607.35" y2="117.40" stroke="#111" stroke-width="1.20"/>
<line x1="605.05" y1="95.60" x2="609.65" y2="95.60" stroke="#111" stroke-width="1.20"/>
<line x1="605.05" y1="117.40" x2="609.65" y2="117.40" stroke="#111" stroke-width="1.20"/>
<line x1="628.05" y1="117.10" x2="628.05" y2="130.10" stroke="#111" stroke-width="1.20"/>
<line x1="625.75" y1="117.10" x2="630.35" y2="117.10" stroke="#111" stroke-width="1.20"/>
<line x1="625.75" y1="130.10" x2="630.35" y2="130.10" stroke="#111" stroke-width="1.20"/>
<line x1="640.95" y1="138.60" x2="640.95" y2="146.00" stroke="#111" stroke-width="1.20"/>
<line x1="638.65" y1="138.60" x2="643.25" y2="138.60" stroke="#111" stroke-width="1.20"/>
<line x1="638.65" y1="146.00" x2="643.25" y2="146.00" stroke="#111" stroke-width="1.20"/>
<line x1="387.10" y1="158.60" x2="406.40" y2="158.60" stroke="#111" stroke-width="1.70"/>
<text x="389.78" y="163.27" font-size="18.50" textLength="15.41" lengthAdjust="spacingAndGlyphs" fill="#111">**</text>
<line x1="421.00" y1="180.60" x2="443.70" y2="180.60" stroke="#111" stroke-width="1.70"/>
<text x="424.58" y="183.77" font-size="18.50" textLength="15.41" lengthAdjust="spacingAndGlyphs" fill="#111">**</text>
<line x1="455.00" y1="56.40" x2="477.80" y2="56.40" stroke="#111" stroke-width="1.70"/>
<text x="458.48" y="59.47" font-size="18.50" textLength="15.41" lengthAdjust="spacingAndGlyphs" fill="#111">**</text>
<line x1="489.00" y1="111.40" x2="511.30" y2="111.40" stroke="#111" stroke-width="1.70"/>
<text x="496.74" y="114.97" font-size="18.50" textLength="7.70" lengthAdjust="spacingAndGlyphs" fill="#111">*</text>
<line x1="522.30" y1="174.40" x2="548.40" y2="174.40" stroke="#111" stroke-width="1.70"/>
<text x="521.58" y="177.37" font-size="18.50" textLength="30.81" lengthAdjust="spacingAndGlyphs" fill="#111">****</text>
<line x1="556.40" y1="194.70" x2="580.80" y2="194.70" stroke="#111" stroke-width="1.70"/>
<text x="560.88" y="197.87" font-size="18.50" textLength="15.41" lengthAdjust="spacingAndGlyphs" fill="#111">**</text>
<line x1="587.30" y1="58.40" x2="613.90" y2="58.40" stroke="#111" stroke-width="1.70"/>
<text x="590.34" y="62.17" font-size="18.50" textLength="23.11" lengthAdjust="spacingAndGlyphs" fill="#111">***</text>
<line x1="624.30" y1="113.05" x2="650.50" y2="113.05" stroke="#111" stroke-width="1.70"/>
<text x="622.78" y="115.77" font-size="18.50" textLength="30.81" lengthAdjust="spacingAndGlyphs" fill="#111">****</text>
<line x1="386.50" y1="264.70" x2="406.90" y2="264.70" stroke="#111" stroke-width="1.70"/>
<line x1="419.50" y1="264.70" x2="439.90" y2="264.70" stroke="#111" stroke-width="1.70"/>
<line x1="453.40" y1="264.70" x2="473.80" y2="264.70" stroke="#111" stroke-width="1.70"/>
<line x1="486.40" y1="264.70" x2="506.50" y2="264.70" stroke="#111" stroke-width="1.70"/>
<line x1="523.00" y1="264.70" x2="543.00" y2="264.70" stroke="#111" stroke-width="1.70"/>
<line x1="556.70" y1="264.70" x2="576.50" y2="264.70" stroke="#111" stroke-width="1.70"/>
<line x1="591.00" y1="264.70" x2="611.00" y2="264.70" stroke="#111" stroke-width="1.70"/>
<line x1="624.20" y1="264.70" x2="644.10" y2="264.70" stroke="#111" stroke-width="1.70"/>
<text transform="translate(404.20 275.00) rotate(-45)" x="-40.57" y="0" font-size="21.50" textLength="40.57" lengthAdjust="spacingAndGlyphs" fill="#111">EDL</text>
<text transform="translate(438.00 275.00) rotate(-45)" x="-64.42" y="0" font-size="21.50" textLength="64.42" lengthAdjust="spacingAndGlyphs" fill="#111">Soleus</text>
<text transform="translate(471.00 277.20) rotate(-45)" x="-52.60" y="0" font-size="21.50" textLength="52.60" lengthAdjust="spacingAndGlyphs" fill="#111">Quad</text>
<text transform="translate(505.00 277.50) rotate(-45)" x="-25.88" y="0" font-size="21.50" textLength="25.88" lengthAdjust="spacingAndGlyphs" fill="#111">TA</text>
<text transform="translate(545.00 275.00) rotate(-45)" x="-40.57" y="0" font-size="21.50" textLength="40.57" lengthAdjust="spacingAndGlyphs" fill="#111">EDL</text>
<text transform="translate(578.60 275.00) rotate(-45)" x="-64.42" y="0" font-size="21.50" textLength="64.42" lengthAdjust="spacingAndGlyphs" fill="#111">Soleus</text>
<text transform="translate(611.50 277.20) rotate(-45)" x="-52.60" y="0" font-size="21.50" textLength="52.60" lengthAdjust="spacingAndGlyphs" fill="#111">Quad</text>
<text transform="translate(645.60 277.50) rotate(-45)" x="-25.88" y="0" font-size="21.50" textLength="25.88" lengthAdjust="spacingAndGlyphs" fill="#111">TA</text>
<line x1="362.80" y1="323.30" x2="485.00" y2="323.30" stroke="#111" stroke-width="1.90"/>
<text x="407.22" y="344.40" font-size="23.00" textLength="31.11" lengthAdjust="spacingAndGlyphs" fill="#111"><tspan font-style="italic">S</tspan>T</text>
<line x1="521.50" y1="325.50" x2="644.10" y2="325.50" stroke="#111" stroke-width="1.90"/>
<text x="568.65" y="346.90" font-size="23.00" textLength="23.57" lengthAdjust="spacingAndGlyphs" fill="#111"><tspan font-style="italic">Bt</tspan></text>
<rect x="411.95" y="27.65" width="14.40" height="8.50" fill="#fff" stroke="#111" stroke-width="1.70"/>
<text x="433.17" y="38.60" font-size="20.30" textLength="94.40" lengthAdjust="spacingAndGlyphs" fill="#111">Untreated</text>
<rect x="541.15" y="29.05" width="14.70" height="8.50" fill="#959595" stroke="#111" stroke-width="1.70"/>
<text x="562.12" y="39.60" font-size="20.30" textLength="76.66" lengthAdjust="spacingAndGlyphs" fill="#111">Infected</text>
<line x1="59.00" y1="424.50" x2="59.00" y2="542.60" stroke="#111" stroke-width="1.80"/>
<line x1="56.30" y1="542.60" x2="61.70" y2="542.60" stroke="#111" stroke-width="1.80"/>
<line x1="59.00" y1="553.70" x2="59.00" y2="650.20" stroke="#111" stroke-width="1.80"/>
<line x1="59.00" y1="553.70" x2="61.70" y2="553.70" stroke="#111" stroke-width="1.80"/>
<line x1="58.10" y1="649.30" x2="322.70" y2="649.30" stroke="#111" stroke-width="1.80"/>
<line x1="54.00" y1="424.50" x2="59.90" y2="424.50" stroke="#111" stroke-width="1.80"/>
<text x="30.44" y="431.63" font-size="20.50" textLength="23.26" lengthAdjust="spacingAndGlyphs" fill="#111">90</text>
<line x1="54.00" y1="449.78" x2="59.90" y2="449.78" stroke="#111" stroke-width="1.80"/>
<text x="30.53" y="456.91" font-size="20.50" textLength="23.26" lengthAdjust="spacingAndGlyphs" fill="#111">75</text>
<line x1="54.00" y1="475.06" x2="59.90" y2="475.06" stroke="#111" stroke-width="1.80"/>
<text x="30.44" y="482.19" font-size="20.50" textLength="23.26" lengthAdjust="spacingAndGlyphs" fill="#111">60</text>
<line x1="54.00" y1="500.34" x2="59.90" y2="500.34" stroke="#111" stroke-width="1.80"/>
<text x="30.53" y="507.47" font-size="20.50" textLength="23.26" lengthAdjust="spacingAndGlyphs" fill="#111">45</text>
<line x1="54.00" y1="525.62" x2="59.90" y2="525.62" stroke="#111" stroke-width="1.80"/>
<text x="30.44" y="532.75" font-size="20.50" textLength="23.26" lengthAdjust="spacingAndGlyphs" fill="#111">30</text>
<line x1="54.00" y1="553.70" x2="59.90" y2="553.70" stroke="#111" stroke-width="1.80"/>
<text x="30.44" y="560.83" font-size="20.50" textLength="23.26" lengthAdjust="spacingAndGlyphs" fill="#111">10</text>
<line x1="54.00" y1="577.60" x2="59.90" y2="577.60" stroke="#111" stroke-width="1.80"/>
<text x="42.19" y="584.73" font-size="20.50" textLength="11.63" lengthAdjust="spacingAndGlyphs" fill="#111">8</text>
<line x1="54.00" y1="601.50" x2="59.90" y2="601.50" stroke="#111" stroke-width="1.80"/>
<text x="42.19" y="608.63" font-size="20.50" textLength="11.63" lengthAdjust="spacingAndGlyphs" fill="#111">6</text>
<line x1="54.00" y1="625.40" x2="59.90" y2="625.40" stroke="#111" stroke-width="1.80"/>
<text x="41.86" y="632.53" font-size="20.50" textLength="11.63" lengthAdjust="spacingAndGlyphs" fill="#111">4</text>
<line x1="54.00" y1="649.30" x2="59.90" y2="649.30" stroke="#111" stroke-width="1.80"/>
<text x="42.32" y="656.43" font-size="20.50" textLength="11.63" lengthAdjust="spacingAndGlyphs" fill="#111">2</text>
<rect x="60.60" y="592.10" width="9.60" height="57.20" fill="#959595"/>
<line x1="61.40" y1="591.30" x2="61.40" y2="649.30" stroke="#111" stroke-width="1.60"/>
<line x1="69.40" y1="591.30" x2="69.40" y2="649.30" stroke="#111" stroke-width="1.60"/>
<line x1="60.60" y1="592.10" x2="70.20" y2="592.10" stroke="#111" stroke-width="1.60"/>
<rect x="72.70" y="581.40" width="9.60" height="67.90" fill="#fff"/>
<line x1="73.50" y1="580.60" x2="73.50" y2="649.30" stroke="#111" stroke-width="1.60"/>
<line x1="81.50" y1="580.60" x2="81.50" y2="649.30" stroke="#111" stroke-width="1.60"/>
<line x1="72.70" y1="581.40" x2="82.30" y2="581.40" stroke="#111" stroke-width="1.60"/>
<rect x="94.00" y="613.30" width="9.60" height="36.00" fill="#959595"/>
<line x1="94.80" y1="612.50" x2="94.80" y2="649.30" stroke="#111" stroke-width="1.60"/>
<line x1="102.80" y1="612.50" x2="102.80" y2="649.30" stroke="#111" stroke-width="1.60"/>
<line x1="94.00" y1="613.30" x2="103.60" y2="613.30" stroke="#111" stroke-width="1.60"/>
<rect x="106.10" y="601.40" width="9.60" height="47.90" fill="#fff"/>
<line x1="106.90" y1="600.60" x2="106.90" y2="649.30" stroke="#111" stroke-width="1.60"/>
<line x1="114.90" y1="600.60" x2="114.90" y2="649.30" stroke="#111" stroke-width="1.60"/>
<line x1="106.10" y1="601.40" x2="115.70" y2="601.40" stroke="#111" stroke-width="1.60"/>
<rect x="127.00" y="497.80" width="9.60" height="44.80" fill="#959595"/>
<line x1="127.80" y1="497.00" x2="127.80" y2="542.60" stroke="#111" stroke-width="1.60"/>
<line x1="135.80" y1="497.00" x2="135.80" y2="542.60" stroke="#111" stroke-width="1.60"/>
<line x1="127.00" y1="497.80" x2="136.60" y2="497.80" stroke="#111" stroke-width="1.60"/>
<rect x="127.00" y="553.70" width="9.60" height="95.60" fill="#959595"/>
<line x1="127.80" y1="553.70" x2="127.80" y2="649.30" stroke="#111" stroke-width="1.60"/>
<line x1="135.80" y1="553.70" x2="135.80" y2="649.30" stroke="#111" stroke-width="1.60"/>
<rect x="139.10" y="470.30" width="9.60" height="72.30" fill="#fff"/>
<line x1="139.90" y1="469.50" x2="139.90" y2="542.60" stroke="#111" stroke-width="1.60"/>
<line x1="147.90" y1="469.50" x2="147.90" y2="542.60" stroke="#111" stroke-width="1.60"/>
<line x1="139.10" y1="470.30" x2="148.70" y2="470.30" stroke="#111" stroke-width="1.60"/>
<rect x="139.10" y="553.70" width="9.60" height="95.60" fill="#fff"/>
<line x1="139.90" y1="553.70" x2="139.90" y2="649.30" stroke="#111" stroke-width="1.60"/>
<line x1="147.90" y1="553.70" x2="147.90" y2="649.30" stroke="#111" stroke-width="1.60"/>
<rect x="160.80" y="523.90" width="9.60" height="18.70" fill="#959595"/>
<line x1="161.60" y1="523.10" x2="161.60" y2="542.60" stroke="#111" stroke-width="1.60"/>
<line x1="169.60" y1="523.10" x2="169.60" y2="542.60" stroke="#111" stroke-width="1.60"/>
<line x1="160.80" y1="523.90" x2="170.40" y2="523.90" stroke="#111" stroke-width="1.60"/>
<rect x="160.80" y="553.70" width="9.60" height="95.60" fill="#959595"/>
<line x1="161.60" y1="553.70" x2="161.60" y2="649.30" stroke="#111" stroke-width="1.60"/>
<line x1="169.60" y1="553.70" x2="169.60" y2="649.30" stroke="#111" stroke-width="1.60"/>
<rect x="172.90" y="518.70" width="9.60" height="23.90" fill="#fff"/>
<line x1="173.70" y1="517.90" x2="173.70" y2="542.60" stroke="#111" stroke-width="1.60"/>
<line x1="181.70" y1="517.90" x2="181.70" y2="542.60" stroke="#111" stroke-width="1.60"/>
<line x1="172.90" y1="518.70" x2="182.50" y2="518.70" stroke="#111" stroke-width="1.60"/>
<rect x="172.90" y="553.70" width="9.60" height="95.60" fill="#fff"/>
<line x1="173.70" y1="553.70" x2="173.70" y2="649.30" stroke="#111" stroke-width="1.60"/>
<line x1="181.70" y1="553.70" x2="181.70" y2="649.30" stroke="#111" stroke-width="1.60"/>
<rect x="198.00" y="605.30" width="9.60" height="44.00" fill="#959595"/>
<line x1="198.80" y1="604.50" x2="198.80" y2="649.30" stroke="#111" stroke-width="1.60"/>
<line x1="206.80" y1="604.50" x2="206.80" y2="649.30" stroke="#111" stroke-width="1.60"/>
<line x1="198.00" y1="605.30" x2="207.60" y2="605.30" stroke="#111" stroke-width="1.60"/>
<rect x="210.10" y="588.20" width="9.60" height="61.10" fill="#fff"/>
<line x1="210.90" y1="587.40" x2="210.90" y2="649.30" stroke="#111" stroke-width="1.60"/>
<line x1="218.90" y1="587.40" x2="218.90" y2="649.30" stroke="#111" stroke-width="1.60"/>
<line x1="210.10" y1="588.20" x2="219.70" y2="588.20" stroke="#111" stroke-width="1.60"/>
<rect x="231.40" y="619.10" width="9.60" height="30.20" fill="#959595"/>
<line x1="232.20" y1="618.30" x2="232.20" y2="649.30" stroke="#111" stroke-width="1.60"/>
<line x1="240.20" y1="618.30" x2="240.20" y2="649.30" stroke="#111" stroke-width="1.60"/>
<line x1="231.40" y1="619.10" x2="241.00" y2="619.10" stroke="#111" stroke-width="1.60"/>
<rect x="243.50" y="596.80" width="9.60" height="52.50" fill="#fff"/>
<line x1="244.30" y1="596.00" x2="244.30" y2="649.30" stroke="#111" stroke-width="1.60"/>
<line x1="252.30" y1="596.00" x2="252.30" y2="649.30" stroke="#111" stroke-width="1.60"/>
<line x1="243.50" y1="596.80" x2="253.10" y2="596.80" stroke="#111" stroke-width="1.60"/>
<rect x="264.90" y="505.60" width="9.60" height="37.00" fill="#959595"/>
<line x1="265.70" y1="504.80" x2="265.70" y2="542.60" stroke="#111" stroke-width="1.60"/>
<line x1="273.70" y1="504.80" x2="273.70" y2="542.60" stroke="#111" stroke-width="1.60"/>
<line x1="264.90" y1="505.60" x2="274.50" y2="505.60" stroke="#111" stroke-width="1.60"/>
<rect x="264.90" y="553.70" width="9.60" height="95.60" fill="#959595"/>
<line x1="265.70" y1="553.70" x2="265.70" y2="649.30" stroke="#111" stroke-width="1.60"/>
<line x1="273.70" y1="553.70" x2="273.70" y2="649.30" stroke="#111" stroke-width="1.60"/>
<rect x="277.00" y="484.30" width="9.60" height="58.30" fill="#fff"/>
<line x1="277.80" y1="483.50" x2="277.80" y2="542.60" stroke="#111" stroke-width="1.60"/>
<line x1="285.80" y1="483.50" x2="285.80" y2="542.60" stroke="#111" stroke-width="1.60"/>
<line x1="277.00" y1="484.30" x2="286.60" y2="484.30" stroke="#111" stroke-width="1.60"/>
<rect x="277.00" y="553.70" width="9.60" height="95.60" fill="#fff"/>
<line x1="277.80" y1="553.70" x2="277.80" y2="649.30" stroke="#111" stroke-width="1.60"/>
<line x1="285.80" y1="553.70" x2="285.80" y2="649.30" stroke="#111" stroke-width="1.60"/>
<rect x="298.30" y="531.00" width="9.60" height="11.60" fill="#959595"/>
<line x1="299.10" y1="530.20" x2="299.10" y2="542.60" stroke="#111" stroke-width="1.60"/>
<line x1="307.10" y1="530.20" x2="307.10" y2="542.60" stroke="#111" stroke-width="1.60"/>
<line x1="298.30" y1="531.00" x2="307.90" y2="531.00" stroke="#111" stroke-width="1.60"/>
<rect x="298.30" y="553.70" width="9.60" height="95.60" fill="#959595"/>
<line x1="299.10" y1="553.70" x2="299.10" y2="649.30" stroke="#111" stroke-width="1.60"/>
<line x1="307.10" y1="553.70" x2="307.10" y2="649.30" stroke="#111" stroke-width="1.60"/>
<rect x="310.40" y="523.60" width="9.60" height="19.00" fill="#fff"/>
<line x1="311.20" y1="522.80" x2="311.20" y2="542.60" stroke="#111" stroke-width="1.60"/>
<line x1="319.20" y1="522.80" x2="319.20" y2="542.60" stroke="#111" stroke-width="1.60"/>
<line x1="310.40" y1="523.60" x2="320.00" y2="523.60" stroke="#111" stroke-width="1.60"/>
<rect x="310.40" y="553.70" width="9.60" height="95.60" fill="#fff"/>
<line x1="311.20" y1="553.70" x2="311.20" y2="649.30" stroke="#111" stroke-width="1.60"/>
<line x1="319.20" y1="553.70" x2="319.20" y2="649.30" stroke="#111" stroke-width="1.60"/>
<line x1="65.40" y1="580.40" x2="65.40" y2="603.80" stroke="#111" stroke-width="1.20"/>
<line x1="63.10" y1="580.40" x2="67.70" y2="580.40" stroke="#111" stroke-width="1.20"/>
<line x1="63.10" y1="603.80" x2="67.70" y2="603.80" stroke="#111" stroke-width="1.20"/>
<line x1="77.50" y1="574.60" x2="77.50" y2="588.20" stroke="#111" stroke-width="1.20"/>
<line x1="75.20" y1="574.60" x2="79.80" y2="574.60" stroke="#111" stroke-width="1.20"/>
<line x1="75.20" y1="588.20" x2="79.80" y2="588.20" stroke="#111" stroke-width="1.20"/>
<line x1="98.80" y1="600.40" x2="98.80" y2="626.20" stroke="#111" stroke-width="1.20"/>
<line x1="96.50" y1="600.40" x2="101.10" y2="600.40" stroke="#111" stroke-width="1.20"/>
<line x1="96.50" y1="626.20" x2="101.10" y2="626.20" stroke="#111" stroke-width="1.20"/>
<line x1="110.90" y1="590.50" x2="110.90" y2="612.30" stroke="#111" stroke-width="1.20"/>
<line x1="108.60" y1="590.50" x2="113.20" y2="590.50" stroke="#111" stroke-width="1.20"/>
<line x1="108.60" y1="612.30" x2="113.20" y2="612.30" stroke="#111" stroke-width="1.20"/>
<line x1="131.80" y1="477.20" x2="131.80" y2="518.40" stroke="#111" stroke-width="1.20"/>
<line x1="129.50" y1="477.20" x2="134.10" y2="477.20" stroke="#111" stroke-width="1.20"/>
<line x1="129.50" y1="518.40" x2="134.10" y2="518.40" stroke="#111" stroke-width="1.20"/>
<line x1="143.90" y1="443.60" x2="143.90" y2="497.00" stroke="#111" stroke-width="1.20"/>
<line x1="141.60" y1="443.60" x2="146.20" y2="443.60" stroke="#111" stroke-width="1.20"/>
<line x1="141.60" y1="497.00" x2="146.20" y2="497.00" stroke="#111" stroke-width="1.20"/>
<line x1="165.60" y1="521.50" x2="165.60" y2="526.30" stroke="#111" stroke-width="1.20"/>
<line x1="163.30" y1="521.50" x2="167.90" y2="521.50" stroke="#111" stroke-width="1.20"/>
<line x1="163.30" y1="526.30" x2="167.90" y2="526.30" stroke="#111" stroke-width="1.20"/>
<line x1="177.70" y1="514.00" x2="177.70" y2="523.40" stroke="#111" stroke-width="1.20"/>
<line x1="175.40" y1="514.00" x2="180.00" y2="514.00" stroke="#111" stroke-width="1.20"/>
<line x1="175.40" y1="523.40" x2="180.00" y2="523.40" stroke="#111" stroke-width="1.20"/>
<line x1="202.80" y1="599.70" x2="202.80" y2="610.90" stroke="#111" stroke-width="1.20"/>
<line x1="200.50" y1="599.70" x2="205.10" y2="599.70" stroke="#111" stroke-width="1.20"/>
<line x1="200.50" y1="610.90" x2="205.10" y2="610.90" stroke="#111" stroke-width="1.20"/>
<line x1="214.90" y1="579.70" x2="214.90" y2="596.70" stroke="#111" stroke-width="1.20"/>
<line x1="212.60" y1="579.70" x2="217.20" y2="579.70" stroke="#111" stroke-width="1.20"/>
<line x1="212.60" y1="596.70" x2="217.20" y2="596.70" stroke="#111" stroke-width="1.20"/>
<line x1="236.20" y1="610.60" x2="236.20" y2="627.60" stroke="#111" stroke-width="1.20"/>
<line x1="233.90" y1="610.60" x2="238.50" y2="610.60" stroke="#111" stroke-width="1.20"/>
<line x1="233.90" y1="627.60" x2="238.50" y2="627.60" stroke="#111" stroke-width="1.20"/>
<line x1="248.30" y1="580.60" x2="248.30" y2="613.00" stroke="#111" stroke-width="1.20"/>
<line x1="246.00" y1="580.60" x2="250.60" y2="580.60" stroke="#111" stroke-width="1.20"/>
<line x1="246.00" y1="613.00" x2="250.60" y2="613.00" stroke="#111" stroke-width="1.20"/>
<line x1="269.70" y1="498.90" x2="269.70" y2="512.30" stroke="#111" stroke-width="1.20"/>
<line x1="267.40" y1="498.90" x2="272.00" y2="498.90" stroke="#111" stroke-width="1.20"/>
<line x1="267.40" y1="512.30" x2="272.00" y2="512.30" stroke="#111" stroke-width="1.20"/>
<line x1="281.80" y1="462.20" x2="281.80" y2="506.40" stroke="#111" stroke-width="1.20"/>
<line x1="279.50" y1="462.20" x2="284.10" y2="462.20" stroke="#111" stroke-width="1.20"/>
<line x1="279.50" y1="506.40" x2="284.10" y2="506.40" stroke="#111" stroke-width="1.20"/>
<line x1="303.10" y1="527.70" x2="303.10" y2="534.30" stroke="#111" stroke-width="1.20"/>
<line x1="300.80" y1="527.70" x2="305.40" y2="527.70" stroke="#111" stroke-width="1.20"/>
<line x1="300.80" y1="534.30" x2="305.40" y2="534.30" stroke="#111" stroke-width="1.20"/>
<line x1="315.20" y1="517.40" x2="315.20" y2="529.80" stroke="#111" stroke-width="1.20"/>
<line x1="312.90" y1="517.40" x2="317.50" y2="517.40" stroke="#111" stroke-width="1.20"/>
<line x1="312.90" y1="529.80" x2="317.50" y2="529.80" stroke="#111" stroke-width="1.20"/>
<line x1="62.20" y1="569.30" x2="81.80" y2="569.30" stroke="#111" stroke-width="1.70"/>
<text x="67.64" y="573.17" font-size="18.50" textLength="7.70" lengthAdjust="spacingAndGlyphs" fill="#111">*</text>
<line x1="92.70" y1="583.90" x2="113.60" y2="583.90" stroke="#111" stroke-width="1.70"/>
<text x="96.18" y="587.57" font-size="18.50" textLength="15.41" lengthAdjust="spacingAndGlyphs" fill="#111">**</text>
<line x1="126.70" y1="437.70" x2="148.60" y2="437.70" stroke="#111" stroke-width="1.70"/>
<text x="134.34" y="440.57" font-size="18.50" textLength="7.70" lengthAdjust="spacingAndGlyphs" fill="#111">*</text>
<line x1="158.60" y1="507.70" x2="181.70" y2="507.70" stroke="#111" stroke-width="1.70"/>
<text x="166.64" y="510.77" font-size="18.50" textLength="7.70" lengthAdjust="spacingAndGlyphs" fill="#111">*</text>
<line x1="196.50" y1="573.80" x2="217.30" y2="573.80" stroke="#111" stroke-width="1.70"/>
<text x="195.04" y="576.07" font-size="18.50" textLength="23.11" lengthAdjust="spacingAndGlyphs" fill="#111">***</text>
<line x1="230.30" y1="574.90" x2="251.80" y2="574.90" stroke="#111" stroke-width="1.70"/>
<text x="233.78" y="577.07" font-size="18.50" textLength="15.41" lengthAdjust="spacingAndGlyphs" fill="#111">**</text>
<line x1="262.70" y1="455.10" x2="284.30" y2="455.10" stroke="#111" stroke-width="1.70"/>
<text x="270.24" y="456.07" font-size="18.50" textLength="7.70" lengthAdjust="spacingAndGlyphs" fill="#111">*</text>
<line x1="296.90" y1="509.70" x2="318.90" y2="509.70" stroke="#111" stroke-width="1.70"/>
<text x="300.68" y="511.37" font-size="18.50" textLength="15.41" lengthAdjust="spacingAndGlyphs" fill="#111">**</text>
<line x1="63.00" y1="657.00" x2="83.30" y2="657.00" stroke="#111" stroke-width="1.70"/>
<line x1="93.50" y1="657.00" x2="113.90" y2="657.00" stroke="#111" stroke-width="1.70"/>
<line x1="127.70" y1="657.00" x2="148.00" y2="657.00" stroke="#111" stroke-width="1.70"/>
<line x1="161.10" y1="657.00" x2="181.50" y2="657.00" stroke="#111" stroke-width="1.70"/>
<line x1="200.20" y1="657.00" x2="220.80" y2="657.00" stroke="#111" stroke-width="1.70"/>
<line x1="231.00" y1="657.00" x2="251.10" y2="657.00" stroke="#111" stroke-width="1.70"/>
<line x1="265.60" y1="657.00" x2="285.90" y2="657.00" stroke="#111" stroke-width="1.70"/>
<line x1="298.30" y1="657.00" x2="318.70" y2="657.00" stroke="#111" stroke-width="1.70"/>
<text transform="translate(81.40 668.80) rotate(-45)" x="-40.57" y="0" font-size="21.50" textLength="40.57" lengthAdjust="spacingAndGlyphs" fill="#111">EDL</text>
<text transform="translate(114.80 668.80) rotate(-45)" x="-64.42" y="0" font-size="21.50" textLength="64.42" lengthAdjust="spacingAndGlyphs" fill="#111">Soleus</text>
<text transform="translate(147.30 671.00) rotate(-45)" x="-52.60" y="0" font-size="21.50" textLength="52.60" lengthAdjust="spacingAndGlyphs" fill="#111">Quad</text>
<text transform="translate(181.60 671.30) rotate(-45)" x="-25.88" y="0" font-size="21.50" textLength="25.88" lengthAdjust="spacingAndGlyphs" fill="#111">TA</text>
<text transform="translate(222.20 668.80) rotate(-45)" x="-40.57" y="0" font-size="21.50" textLength="40.57" lengthAdjust="spacingAndGlyphs" fill="#111">EDL</text>
<text transform="translate(255.60 668.80) rotate(-45)" x="-64.42" y="0" font-size="21.50" textLength="64.42" lengthAdjust="spacingAndGlyphs" fill="#111">Soleus</text>
<text transform="translate(288.60 671.00) rotate(-45)" x="-52.60" y="0" font-size="21.50" textLength="52.60" lengthAdjust="spacingAndGlyphs" fill="#111">Quad</text>
<text transform="translate(322.50 671.30) rotate(-45)" x="-25.88" y="0" font-size="21.50" textLength="25.88" lengthAdjust="spacingAndGlyphs" fill="#111">TA</text>
<line x1="38.80" y1="717.00" x2="161.70" y2="717.00" stroke="#111" stroke-width="1.90"/>
<text x="84.01" y="738.90" font-size="23.00" textLength="31.32" lengthAdjust="spacingAndGlyphs" fill="#111"><tspan font-style="italic">S</tspan>T</text>
<line x1="198.40" y1="719.10" x2="320.60" y2="719.10" stroke="#111" stroke-width="1.90"/>
<text x="245.37" y="741.30" font-size="23.00" textLength="22.88" lengthAdjust="spacingAndGlyphs" fill="#111"><tspan font-style="italic">Bt</tspan></text>
<rect x="67.25" y="410.65" width="14.10" height="8.80" fill="#959595" stroke="#111" stroke-width="1.70"/>
<text x="90.62" y="422.20" font-size="20.30" textLength="65.28" lengthAdjust="spacingAndGlyphs" fill="#111">Vehicle</text>
<rect x="170.55" y="411.35" width="14.80" height="8.10" fill="#fff" stroke="#111" stroke-width="1.70"/>
<text x="193.97" y="422.30" font-size="20.30" textLength="134.95" lengthAdjust="spacingAndGlyphs" fill="#111"><tspan font-style="italic">E. coli</tspan> O21:H+</text>
<text transform="translate(17.00 617.20) rotate(-90)" x="-0.46" y="0" font-size="20.30" textLength="174.74" lengthAdjust="spacingAndGlyphs" fill="#111">Tissue weight (mg)</text>
<line x1="95.60" y1="833.70" x2="95.60" y2="963.30" stroke="#111" stroke-width="1.80"/>
<line x1="94.70" y1="962.50" x2="358.60" y2="962.50" stroke="#111" stroke-width="1.80"/>
<line x1="90.40" y1="833.70" x2="96.00" y2="833.70" stroke="#111" stroke-width="1.80"/>
<text x="49.19" y="843.00" font-size="20.50" textLength="22.07" lengthAdjust="spacingAndGlyphs" fill="#111">10</text>
<text x="72.34" y="834.80" font-size="15.00" textLength="16.94" lengthAdjust="spacingAndGlyphs" fill="#111">10</text>
<line x1="90.40" y1="859.44" x2="96.00" y2="859.44" stroke="#111" stroke-width="1.80"/>
<text x="57.89" y="868.74" font-size="20.50" textLength="22.07" lengthAdjust="spacingAndGlyphs" fill="#111">10</text>
<text x="79.54" y="860.34" font-size="15.00" textLength="10.81" lengthAdjust="spacingAndGlyphs" fill="#111">8</text>
<line x1="90.40" y1="885.18" x2="96.00" y2="885.18" stroke="#111" stroke-width="1.80"/>
<text x="57.89" y="894.48" font-size="20.50" textLength="22.07" lengthAdjust="spacingAndGlyphs" fill="#111">10</text>
<text x="79.42" y="886.08" font-size="15.00" textLength="10.95" lengthAdjust="spacingAndGlyphs" fill="#111">6</text>
<line x1="90.40" y1="910.92" x2="96.00" y2="910.92" stroke="#111" stroke-width="1.80"/>
<text x="57.89" y="920.22" font-size="20.50" textLength="22.07" lengthAdjust="spacingAndGlyphs" fill="#111">10</text>
<text x="80.00" y="911.82" font-size="15.00" textLength="10.00" lengthAdjust="spacingAndGlyphs" fill="#111">4</text>
<line x1="90.40" y1="936.66" x2="96.00" y2="936.66" stroke="#111" stroke-width="1.80"/>
<text x="57.89" y="945.96" font-size="20.50" textLength="22.07" lengthAdjust="spacingAndGlyphs" fill="#111">10</text>
<text x="79.40" y="937.56" font-size="15.00" textLength="11.10" lengthAdjust="spacingAndGlyphs" fill="#111">2</text>
<line x1="90.40" y1="962.40" x2="96.00" y2="962.40" stroke="#111" stroke-width="1.80"/>
<text x="57.89" y="971.70" font-size="20.50" textLength="22.07" lengthAdjust="spacingAndGlyphs" fill="#111">10</text>
<text x="79.68" y="963.30" font-size="15.00" textLength="10.54" lengthAdjust="spacingAndGlyphs" fill="#111">0</text>
<rect x="98.40" y="900.90" width="13.30" height="61.50" fill="#fff"/>
<line x1="99.20" y1="900.10" x2="99.20" y2="962.40" stroke="#111" stroke-width="1.60"/>
<line x1="110.90" y1="900.10" x2="110.90" y2="962.40" stroke="#111" stroke-width="1.60"/>
<line x1="98.40" y1="900.90" x2="111.70" y2="900.90" stroke="#111" stroke-width="1.60"/>
<rect x="118.40" y="860.90" width="13.30" height="101.50" fill="#fff"/>
<line x1="119.20" y1="860.10" x2="119.20" y2="962.40" stroke="#111" stroke-width="1.60"/>
<line x1="130.90" y1="860.10" x2="130.90" y2="962.40" stroke="#111" stroke-width="1.60"/>
<line x1="118.40" y1="860.90" x2="131.70" y2="860.90" stroke="#111" stroke-width="1.60"/>
<rect x="138.70" y="900.40" width="13.30" height="62.00" fill="#fff"/>
<line x1="139.50" y1="899.60" x2="139.50" y2="962.40" stroke="#111" stroke-width="1.60"/>
<line x1="151.20" y1="899.60" x2="151.20" y2="962.40" stroke="#111" stroke-width="1.60"/>
<line x1="138.70" y1="900.40" x2="152.00" y2="900.40" stroke="#111" stroke-width="1.60"/>
<rect x="159.30" y="870.00" width="13.30" height="92.40" fill="#fff"/>
<line x1="160.10" y1="869.20" x2="160.10" y2="962.40" stroke="#111" stroke-width="1.60"/>
<line x1="171.80" y1="869.20" x2="171.80" y2="962.40" stroke="#111" stroke-width="1.60"/>
<line x1="159.30" y1="870.00" x2="172.60" y2="870.00" stroke="#111" stroke-width="1.60"/>
<rect x="179.30" y="892.90" width="13.30" height="69.50" fill="#fff"/>
<line x1="180.10" y1="892.10" x2="180.10" y2="962.40" stroke="#111" stroke-width="1.60"/>
<line x1="191.80" y1="892.10" x2="191.80" y2="962.40" stroke="#111" stroke-width="1.60"/>
<line x1="179.30" y1="892.90" x2="192.60" y2="892.90" stroke="#111" stroke-width="1.60"/>
<rect x="199.30" y="873.30" width="13.30" height="89.10" fill="#fff"/>
<line x1="200.10" y1="872.50" x2="200.10" y2="962.40" stroke="#111" stroke-width="1.60"/>
<line x1="211.80" y1="872.50" x2="211.80" y2="962.40" stroke="#111" stroke-width="1.60"/>
<line x1="199.30" y1="873.30" x2="212.60" y2="873.30" stroke="#111" stroke-width="1.60"/>
<rect x="218.70" y="904.00" width="13.30" height="58.40" fill="#fff"/>
<line x1="219.50" y1="903.20" x2="219.50" y2="962.40" stroke="#111" stroke-width="1.60"/>
<line x1="231.20" y1="903.20" x2="231.20" y2="962.40" stroke="#111" stroke-width="1.60"/>
<line x1="218.70" y1="904.00" x2="232.00" y2="904.00" stroke="#111" stroke-width="1.60"/>
<rect x="239.70" y="866.40" width="13.30" height="96.00" fill="#fff"/>
<line x1="240.50" y1="865.60" x2="240.50" y2="962.40" stroke="#111" stroke-width="1.60"/>
<line x1="252.20" y1="865.60" x2="252.20" y2="962.40" stroke="#111" stroke-width="1.60"/>
<line x1="239.70" y1="866.40" x2="253.00" y2="866.40" stroke="#111" stroke-width="1.60"/>
<rect x="260.40" y="896.90" width="13.30" height="65.50" fill="#fff"/>
<line x1="261.20" y1="896.10" x2="261.20" y2="962.40" stroke="#111" stroke-width="1.60"/>
<line x1="272.90" y1="896.10" x2="272.90" y2="962.40" stroke="#111" stroke-width="1.60"/>
<line x1="260.40" y1="896.90" x2="273.70" y2="896.90" stroke="#111" stroke-width="1.60"/>
<rect x="280.70" y="870.70" width="13.30" height="91.70" fill="#fff"/>
<line x1="281.50" y1="869.90" x2="281.50" y2="962.40" stroke="#111" stroke-width="1.60"/>
<line x1="293.20" y1="869.90" x2="293.20" y2="962.40" stroke="#111" stroke-width="1.60"/>
<line x1="280.70" y1="870.70" x2="294.00" y2="870.70" stroke="#111" stroke-width="1.60"/>
<rect x="320.40" y="940.30" width="13.30" height="22.10" fill="#fff"/>
<line x1="321.20" y1="939.50" x2="321.20" y2="962.40" stroke="#111" stroke-width="1.60"/>
<line x1="332.90" y1="939.50" x2="332.90" y2="962.40" stroke="#111" stroke-width="1.60"/>
<line x1="320.40" y1="940.30" x2="333.70" y2="940.30" stroke="#111" stroke-width="1.60"/>
<rect x="341.70" y="930.30" width="13.30" height="32.10" fill="#fff"/>
<line x1="342.50" y1="929.50" x2="342.50" y2="962.40" stroke="#111" stroke-width="1.60"/>
<line x1="354.20" y1="929.50" x2="354.20" y2="962.40" stroke="#111" stroke-width="1.60"/>
<line x1="341.70" y1="930.30" x2="355.00" y2="930.30" stroke="#111" stroke-width="1.60"/>
<line x1="105.05" y1="896.50" x2="105.05" y2="962.40" stroke="#111" stroke-width="1.60"/>
<line x1="101.30" y1="896.50" x2="108.80" y2="896.50" stroke="#111" stroke-width="1.60"/>
<line x1="125.05" y1="854.40" x2="125.05" y2="962.40" stroke="#111" stroke-width="1.60"/>
<line x1="121.30" y1="854.40" x2="128.80" y2="854.40" stroke="#111" stroke-width="1.60"/>
<line x1="145.35" y1="895.50" x2="145.35" y2="962.40" stroke="#111" stroke-width="1.60"/>
<line x1="141.60" y1="895.50" x2="149.10" y2="895.50" stroke="#111" stroke-width="1.60"/>
<line x1="165.95" y1="862.90" x2="165.95" y2="962.40" stroke="#111" stroke-width="1.60"/>
<line x1="162.20" y1="862.90" x2="169.70" y2="862.90" stroke="#111" stroke-width="1.60"/>
<line x1="185.95" y1="890.00" x2="185.95" y2="962.40" stroke="#111" stroke-width="1.60"/>
<line x1="182.20" y1="890.00" x2="189.70" y2="890.00" stroke="#111" stroke-width="1.60"/>
<line x1="205.95" y1="866.00" x2="205.95" y2="962.40" stroke="#111" stroke-width="1.60"/>
<line x1="202.20" y1="866.00" x2="209.70" y2="866.00" stroke="#111" stroke-width="1.60"/>
<line x1="225.35" y1="900.00" x2="225.35" y2="962.40" stroke="#111" stroke-width="1.60"/>
<line x1="221.60" y1="900.00" x2="229.10" y2="900.00" stroke="#111" stroke-width="1.60"/>
<line x1="246.35" y1="859.30" x2="246.35" y2="962.40" stroke="#111" stroke-width="1.60"/>
<line x1="242.60" y1="859.30" x2="250.10" y2="859.30" stroke="#111" stroke-width="1.60"/>
<line x1="267.05" y1="891.50" x2="267.05" y2="962.40" stroke="#111" stroke-width="1.60"/>
<line x1="263.30" y1="891.50" x2="270.80" y2="891.50" stroke="#111" stroke-width="1.60"/>
<line x1="287.35" y1="864.70" x2="287.35" y2="962.40" stroke="#111" stroke-width="1.60"/>
<line x1="283.60" y1="864.70" x2="291.10" y2="864.70" stroke="#111" stroke-width="1.60"/>
<line x1="327.05" y1="935.50" x2="327.05" y2="962.40" stroke="#111" stroke-width="1.60"/>
<line x1="323.30" y1="935.50" x2="330.80" y2="935.50" stroke="#111" stroke-width="1.60"/>
<line x1="348.35" y1="926.40" x2="348.35" y2="962.40" stroke="#111" stroke-width="1.60"/>
<line x1="344.60" y1="926.40" x2="352.10" y2="926.40" stroke="#111" stroke-width="1.60"/>
<line x1="344.60" y1="942.40" x2="352.10" y2="942.40" stroke="#111" stroke-width="1.60"/>
<rect x="102.55" y="893.50" width="5.00" height="5.00" fill="#999999" stroke="#222" stroke-width="1.00"/>
<rect x="102.55" y="895.00" width="5.00" height="5.00" fill="#999999" stroke="#222" stroke-width="1.00"/>
<rect x="102.55" y="901.80" width="5.00" height="5.00" fill="#999999" stroke="#222" stroke-width="1.00"/>
<rect x="102.55" y="909.90" width="5.00" height="5.00" fill="#999999" stroke="#222" stroke-width="1.00"/>
<rect x="142.85" y="892.80" width="5.00" height="5.00" fill="#999999" stroke="#222" stroke-width="1.00"/>
<rect x="142.85" y="894.50" width="5.00" height="5.00" fill="#999999" stroke="#222" stroke-width="1.00"/>
<rect x="142.85" y="900.50" width="5.00" height="5.00" fill="#999999" stroke="#222" stroke-width="1.00"/>
<rect x="142.85" y="916.20" width="5.00" height="5.00" fill="#999999" stroke="#222" stroke-width="1.00"/>
<rect x="183.45" y="888.20" width="5.00" height="5.00" fill="#999999" stroke="#222" stroke-width="1.00"/>
<rect x="183.45" y="892.80" width="5.00" height="5.00" fill="#999999" stroke="#222" stroke-width="1.00"/>
<rect x="222.85" y="897.80" width="5.00" height="5.00" fill="#999999" stroke="#222" stroke-width="1.00"/>
<rect x="222.85" y="899.90" width="5.00" height="5.00" fill="#999999" stroke="#222" stroke-width="1.00"/>
<rect x="222.85" y="913.50" width="5.00" height="5.00" fill="#999999" stroke="#222" stroke-width="1.00"/>
<rect x="264.55" y="888.80" width="5.00" height="5.00" fill="#999999" stroke="#222" stroke-width="1.00"/>
<rect x="264.55" y="901.50" width="5.00" height="5.00" fill="#999999" stroke="#222" stroke-width="1.00"/>
<rect x="264.55" y="954.80" width="5.00" height="5.00" fill="#999999" stroke="#222" stroke-width="1.00"/>
<rect x="324.55" y="933.50" width="5.00" height="5.00" fill="#999999" stroke="#222" stroke-width="1.00"/>
<rect x="324.55" y="935.80" width="5.00" height="5.00" fill="#999999" stroke="#222" stroke-width="1.00"/>
<rect x="324.55" y="940.40" width="5.00" height="5.00" fill="#999999" stroke="#222" stroke-width="1.00"/>
<rect x="324.55" y="944.60" width="5.00" height="5.00" fill="#999999" stroke="#222" stroke-width="1.00"/>
<circle cx="125.05" cy="850.40" r="3.00" fill="#111"/>
<circle cx="125.05" cy="911.00" r="3.00" fill="#111"/>
<circle cx="125.05" cy="912.50" r="3.00" fill="#111"/>
<circle cx="125.05" cy="923.70" r="3.00" fill="#111"/>
<circle cx="125.05" cy="952.00" r="3.00" fill="#111"/>
<circle cx="125.05" cy="955.00" r="3.00" fill="#111"/>
<circle cx="125.05" cy="958.00" r="3.00" fill="#111"/>
<circle cx="165.95" cy="858.90" r="3.00" fill="#111"/>
<circle cx="165.95" cy="891.00" r="3.00" fill="#111"/>
<circle cx="165.95" cy="904.70" r="3.00" fill="#111"/>
<circle cx="165.95" cy="906.70" r="3.00" fill="#111"/>
<circle cx="165.95" cy="914.00" r="3.00" fill="#111"/>
<circle cx="165.95" cy="919.70" r="3.00" fill="#111"/>
<circle cx="165.95" cy="959.30" r="3.00" fill="#111"/>
<circle cx="205.95" cy="862.40" r="3.00" fill="#111"/>
<circle cx="205.95" cy="897.00" r="3.00" fill="#111"/>
<circle cx="205.95" cy="912.00" r="3.00" fill="#111"/>
<circle cx="205.95" cy="915.70" r="3.00" fill="#111"/>
<circle cx="205.95" cy="920.30" r="3.00" fill="#111"/>
<circle cx="205.95" cy="959.30" r="3.00" fill="#111"/>
<circle cx="246.35" cy="855.30" r="3.00" fill="#111"/>
<circle cx="246.35" cy="892.00" r="3.00" fill="#111"/>
<circle cx="246.35" cy="909.00" r="3.00" fill="#111"/>
<circle cx="246.35" cy="917.60" r="3.00" fill="#111"/>
<circle cx="246.35" cy="923.70" r="3.00" fill="#111"/>
<circle cx="246.35" cy="955.00" r="3.00" fill="#111"/>
<circle cx="246.35" cy="958.00" r="3.00" fill="#111"/>
<circle cx="287.35" cy="861.30" r="3.00" fill="#111"/>
<circle cx="287.35" cy="868.70" r="3.00" fill="#111"/>
<circle cx="287.35" cy="915.30" r="3.00" fill="#111"/>
<circle cx="287.35" cy="920.00" r="3.00" fill="#111"/>
<circle cx="287.35" cy="929.00" r="3.00" fill="#111"/>
<circle cx="287.35" cy="955.50" r="3.00" fill="#111"/>
<circle cx="287.35" cy="958.00" r="3.00" fill="#111"/>
<circle cx="348.35" cy="927.10" r="3.00" fill="#111"/>
<circle cx="348.35" cy="946.90" r="3.00" fill="#111"/>
<line x1="100.50" y1="970.20" x2="126.10" y2="970.20" stroke="#111" stroke-width="1.80"/>
<line x1="138.70" y1="970.20" x2="164.90" y2="970.20" stroke="#111" stroke-width="1.80"/>
<line x1="178.80" y1="970.20" x2="204.10" y2="970.20" stroke="#111" stroke-width="1.80"/>
<line x1="217.90" y1="970.20" x2="243.20" y2="970.20" stroke="#111" stroke-width="1.80"/>
<line x1="255.50" y1="970.20" x2="280.80" y2="970.20" stroke="#111" stroke-width="1.80"/>
<line x1="327.50" y1="970.20" x2="352.60" y2="970.20" stroke="#111" stroke-width="1.80"/>
<text transform="translate(120.80 982.80) rotate(-45)" x="-20.92" y="0" font-size="21.50" textLength="20.92" lengthAdjust="spacingAndGlyphs" fill="#111">SI</text>
<text transform="translate(162.10 977.00) rotate(-45)" x="-70.14" y="0" font-size="21.50" textLength="70.14" lengthAdjust="spacingAndGlyphs" fill="#111">Cecum</text>
<text transform="translate(200.40 977.00) rotate(-45)" x="-57.86" y="0" font-size="21.50" textLength="57.86" lengthAdjust="spacingAndGlyphs" fill="#111">Colon</text>
<text transform="translate(243.90 977.00) rotate(-45)" x="-68.95" y="0" font-size="21.50" textLength="68.95" lengthAdjust="spacingAndGlyphs" fill="#111">Spleen</text>
<text transform="translate(281.50 977.00) rotate(-45)" x="-48.00" y="0" font-size="21.50" textLength="48.00" lengthAdjust="spacingAndGlyphs" fill="#111">Liver</text>
<text transform="translate(351.80 978.50) rotate(-45)" x="-49.26" y="0" font-size="21.50" textLength="49.26" lengthAdjust="spacingAndGlyphs" fill="#111">Lung</text>
<line x1="99.60" y1="1029.30" x2="289.30" y2="1029.30" stroke="#111" stroke-width="1.90"/>
<text x="178.04" y="1048.60" font-size="23.00" textLength="25.60" lengthAdjust="spacingAndGlyphs" fill="#111"><tspan font-style="italic">S</tspan>T</text>
<line x1="312.10" y1="1028.20" x2="356.40" y2="1028.20" stroke="#111" stroke-width="1.90"/>
<text x="323.16" y="1047.00" font-size="22.50" textLength="20.09" lengthAdjust="spacingAndGlyphs" fill="#111"><tspan font-style="italic">Bt</tspan></text>
<rect x="101.60" y="807.40" width="4.80" height="4.80" fill="#999999" stroke="#222" stroke-width="1.00"/>
<text x="119.02" y="817.60" font-size="20.30" textLength="67.31" lengthAdjust="spacingAndGlyphs" fill="#111">Vehicle</text>
<circle cx="207.80" cy="811.80" r="2.60" fill="#111"/>
<text x="223.97" y="817.60" font-size="20.30" textLength="136.06" lengthAdjust="spacingAndGlyphs" fill="#111"><tspan font-style="italic">E. coli</tspan> O21:H+</text>
<text transform="translate(48.60 987.60) rotate(-90)" x="-1.73" y="0" font-size="20.30" textLength="198.88" lengthAdjust="spacingAndGlyphs" fill="#111">Pathogen CFU/organ</text>
<line x1="467.90" y1="845.60" x2="467.90" y2="975.20" stroke="#111" stroke-width="1.80"/>
<line x1="467.00" y1="974.30" x2="659.70" y2="974.30" stroke="#111" stroke-width="1.80"/>
<line x1="462.90" y1="845.65" x2="468.80" y2="845.65" stroke="#111" stroke-width="1.80"/>
<text x="427.72" y="852.78" font-size="20.50" textLength="34.89" lengthAdjust="spacingAndGlyphs" fill="#111">100</text>
<line x1="462.90" y1="871.38" x2="468.80" y2="871.38" stroke="#111" stroke-width="1.80"/>
<text x="439.34" y="878.51" font-size="20.50" textLength="23.26" lengthAdjust="spacingAndGlyphs" fill="#111">80</text>
<line x1="462.90" y1="897.11" x2="468.80" y2="897.11" stroke="#111" stroke-width="1.80"/>
<text x="439.34" y="904.24" font-size="20.50" textLength="23.26" lengthAdjust="spacingAndGlyphs" fill="#111">60</text>
<line x1="462.90" y1="922.84" x2="468.80" y2="922.84" stroke="#111" stroke-width="1.80"/>
<text x="439.34" y="929.97" font-size="20.50" textLength="23.26" lengthAdjust="spacingAndGlyphs" fill="#111">40</text>
<line x1="462.90" y1="948.57" x2="468.80" y2="948.57" stroke="#111" stroke-width="1.80"/>
<text x="439.34" y="955.70" font-size="20.50" textLength="23.26" lengthAdjust="spacingAndGlyphs" fill="#111">20</text>
<line x1="462.90" y1="974.30" x2="468.80" y2="974.30" stroke="#111" stroke-width="1.80"/>
<text x="450.97" y="981.43" font-size="20.50" textLength="11.63" lengthAdjust="spacingAndGlyphs" fill="#111">0</text>
<line x1="467.90" y1="973.40" x2="467.90" y2="979.30" stroke="#111" stroke-width="1.80"/>
<text x="462.09" y="1000.20" font-size="20.50" textLength="11.63" lengthAdjust="spacingAndGlyphs" fill="#111">0</text>
<line x1="528.05" y1="973.40" x2="528.05" y2="979.30" stroke="#111" stroke-width="1.80"/>
<text x="522.26" y="1000.20" font-size="20.50" textLength="11.63" lengthAdjust="spacingAndGlyphs" fill="#111">5</text>
<line x1="588.20" y1="973.40" x2="588.20" y2="979.30" stroke="#111" stroke-width="1.80"/>
<text x="576.18" y="1000.20" font-size="20.50" textLength="23.26" lengthAdjust="spacingAndGlyphs" fill="#111">10</text>
<line x1="648.35" y1="973.40" x2="648.35" y2="979.30" stroke="#111" stroke-width="1.80"/>
<text x="636.37" y="1000.20" font-size="20.50" textLength="23.26" lengthAdjust="spacingAndGlyphs" fill="#111">15</text>
<path d="M467.90 845.65 H516.02 V871.38 H528.05 V922.84 H540.08 V935.70 H552.11 V948.57 H564.14 V961.43 H636.32 V961.43" stroke="#111" stroke-width="1.90" fill="none"/>
<path d="M467.90 845.65 H516.02 V851.05 H540.08 V861.73 H552.11 V872.41 H564.14 V883.22 H576.17 V888.49 H588.20 V893.89 H636.32 V893.89" stroke="#111" stroke-width="1.90" fill="none"/>
<rect x="512.37" y="867.73" width="7.30" height="7.30" fill="#999" stroke="#222" stroke-width="1.10"/>
<rect x="524.40" y="919.19" width="7.30" height="7.30" fill="#999" stroke="#222" stroke-width="1.10"/>
<rect x="536.43" y="932.05" width="7.30" height="7.30" fill="#999" stroke="#222" stroke-width="1.10"/>
<rect x="548.46" y="944.92" width="7.30" height="7.30" fill="#999" stroke="#222" stroke-width="1.10"/>
<rect x="560.49" y="957.78" width="7.30" height="7.30" fill="#999" stroke="#222" stroke-width="1.10"/>
<rect x="632.67" y="957.78" width="7.30" height="7.30" fill="#999" stroke="#222" stroke-width="1.10"/>
<circle cx="516.02" cy="851.05" r="3.80" fill="#111"/>
<circle cx="540.08" cy="861.73" r="3.80" fill="#111"/>
<circle cx="552.11" cy="872.41" r="3.80" fill="#111"/>
<circle cx="564.14" cy="883.22" r="3.80" fill="#111"/>
<circle cx="576.17" cy="888.49" r="3.80" fill="#111"/>
<circle cx="588.20" cy="893.89" r="3.80" fill="#111"/>
<circle cx="636.32" cy="893.89" r="3.80" fill="#111"/>
<text x="577.29" y="863.40" font-size="20.30" textLength="96.50" lengthAdjust="spacingAndGlyphs" fill="#111"><tspan font-style="italic">p</tspan> &lt; 0.0001</text>
<line x1="438.70" y1="818.90" x2="454.70" y2="818.90" stroke="#111" stroke-width="1.80"/>
<rect x="443.65" y="815.65" width="6.50" height="6.50" fill="#999" stroke="#222" stroke-width="1.10"/>
<text x="462.52" y="825.60" font-size="20.30" textLength="65.79" lengthAdjust="spacingAndGlyphs" fill="#111">Vehicle</text>
<line x1="540.50" y1="818.90" x2="557.90" y2="818.90" stroke="#111" stroke-width="1.80"/>
<circle cx="549.20" cy="818.90" r="3.60" fill="#111"/>
<text x="563.68" y="825.60" font-size="20.30" textLength="134.24" lengthAdjust="spacingAndGlyphs" fill="#111"><tspan font-style="italic">E. coli</tspan> O21:H+</text>
<text transform="translate(423.20 975.00) rotate(-90)" x="-1.75" y="0" font-size="20.30" textLength="151.65" lengthAdjust="spacingAndGlyphs" fill="#111">Percent survival</text>
<text x="479.97" y="1022.50" font-size="20.30" textLength="168.00" lengthAdjust="spacingAndGlyphs" fill="#111">Day post infection</text>
</g>
<line x1="97.5" y1="952.1" x2="359.3" y2="952.1" stroke="#ec3b22" stroke-width="2" stroke-dasharray="3 2.6"/>
<circle cx="125.05" cy="952.00" r="3" fill="#111"/>
<circle cx="125.05" cy="955.00" r="3" fill="#111"/>
<circle cx="246.35" cy="955.00" r="3" fill="#111"/>
<circle cx="287.35" cy="955.50" r="3" fill="#111"/>
</svg>
</body></html>
